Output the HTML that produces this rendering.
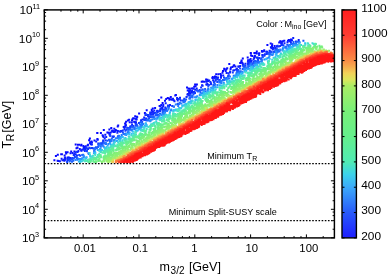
<!DOCTYPE html>
<html><head><meta charset="utf-8"><style>
html,body{margin:0;padding:0;background:#fff;}
svg{display:block;will-change:transform;}
text{font-family:"Liberation Sans",sans-serif;fill:#000;}
</style></head><body>
<svg width="388" height="278" viewBox="0 0 388 278">
<defs><linearGradient id="cb" x1="0" y1="0" x2="0" y2="1"><stop offset="0.000" stop-color="#ff1e1e"/><stop offset="0.111" stop-color="#ff3c32"/><stop offset="0.222" stop-color="#fa8c46"/><stop offset="0.250" stop-color="#f6ac4e"/><stop offset="0.278" stop-color="#f2d258"/><stop offset="0.306" stop-color="#dce65c"/><stop offset="0.333" stop-color="#aaed64"/><stop offset="0.445" stop-color="#78f078"/><stop offset="0.556" stop-color="#64f08c"/><stop offset="0.667" stop-color="#50ebb4"/><stop offset="0.722" stop-color="#3cd2eb"/><stop offset="0.778" stop-color="#3caafa"/><stop offset="0.889" stop-color="#285afa"/><stop offset="1.000" stop-color="#1e1eff"/></linearGradient>
<clipPath id="cp"><rect x="44.30" y="9.90" width="290.10" height="228.00"/></clipPath></defs>
<g clip-path="url(#cp)" fill="none" stroke-width="2" stroke-linecap="square"><path stroke="#0607ff" d="m256.8 51.6h0m-6.1 1.4h0m-179.5 98.5h0m145-77.2h0m-119 58.8h0m3.7 0h0m94.2-48.7h0m-113.7 60.3h0m79.9-47.2h0m-63.9 35.4h0m70.3-35h0m-30.7 18.8h0m-59 28h0m146.3-75.2h0m-145.3 75.2h0m175.4-91.8h0m-88.2 46h0m101.2-53.9h0m-139.5 75.4h0m101.4-56.5h0m21.8-8.4h0m-195.2 100.6h0m6-1.8h0m49.4-26.2h0m-35.6 16.4h0m63.4-31.1h0m7.6-3.1h0m101-52.9h0m-6.1 3.1h0m-152.5 79.8h0m14.7-10.4h0m125.5-65.9h0m59.6-24.1h0m-211.4 107.7h0m-9.9 4.6h0m-13.2 8h0m216.3-116.8h0m-209.5 110.8h0m161.8-83.2h0m3.4-1.7h0m-168.6 85.4h0m51.6-25.1h0m25.8-13.3h0m145.7-74.5h0m-115.9 59h0m4.4-2.3h0m20.3-9.8h0m-44.8 24.2h0m-55 25.7h0m-24 13.7h0m92.9-52.2h0m47.3-20.5h0m18.1-10.8h0m-30 17.9h0m-117.7 61.5h0m48.6-24.6h0m108.5-57.8h0m-31.9 16h0m89.3-42.4h0m-138.2 69h0m-26.7 13.3h0m-18.7 10.9h0m143.5-79.4h0m-173.4 94.5h0m85.1-44.7h0m-71.1 38.5h0m97-53.1h0"/><path stroke="#070cff" d="m234.2 65.3h0m-64.7 34.4h0m-37 19.5h0m124.3-65.8h0m-.7-.4h0m-64.4 35.5h0m-125.5 65h0m148.8-77.1h0m3.3-2.2h0m-123.8 66.2h0m102.4-55.8h0m-132.3 71h0m167.9-88.5h0m-135.1 71.8h0m94.5-50.4h0m3.7-2.2h0m45.7-23.7h0m-65.4 32.4h0m66.9-36.6h0m-38.7 23.3h0m-33.3 15.4h0m-62.2 35.6h0m62.7-33.5h0m31.5-17.8h0m9.6-3.4h0m-94.7 48.5h0m34-16.7h0m-77.3 41.8h0m204.8-109.1h0m-164.9 86.2h0m57.8-29h0m-38.9 18.5h0m129-66.5h0m25.8-10.9h0m-158.3 81.4h0m-26.6 14h0m56.5-30.1h0m-4.5 1.8h0m-23.1 12.7h0m129.9-69.6h0m18.3-9.8h0m-40 21.7h0m-122 62.6h0m-7.5 7h0m41.1-21.8h0"/><path stroke="#0810ff" d="m225.7 71h0m-38 19.6h0m-97.6 52.7h0m181.9-97.2h0m-159.8 84.4h0m-54.6 30.3h0m217-114.8h0m-148.9 78.4h0m-37.6 20.3h0m170.9-91.2h0m-143.4 76.6h0m106.9-57.4h0m-35.5 14.8h0m65.3-31.4h0m7-2.8h0m-123.1 66.1h0m148.1-78.7h0m-200.9 105.2h0m147.5-78.3h0m4.5-1.1h0m-154.3 78.9h0m149.5-76.5h0m-101.5 50.8h0m86.7-42.7h0m56.4-32.8h0m-51.9 29.9h0m6.9-5.8h0m-14.4 8.8h0m28.6-15.3h0m-136.1 72.9h0m142.8-74.4h0m-163.2 86.6h0m157.5-84h0m-67.1 32.5h0m38.9-17.4h0m-25 13.7h0m-101.6 53.8h0m-26 13.3h0m8.9-5.6h0m43.4-22h0m102.4-54h0m-118.6 62.6h0m-7.6 2.4h0m12.5-6.9h0m-37.5 22.1h0m217.6-116.1h0"/><path stroke="#0915ff" d="m208 81h0m-62.2 33.4h0m15.5-9.4h0m44.9-23.4h0m85.9-41.3h0m-175.9 90.2h0m138.7-73.8h0m-.1-.1h0m-47.3 23.1h0m-132 72.7h0m113.7-61.6h0m65.1-33.5h0m-170.6 90.5h0m206.4-106.7h0m-165 85.3h0m-1.4 .5h0m126.9-67.8h0m20.3-11.8h0m-212.5 113.8h0m76.5-42.7h0m86.1-43.1h0m-106.1 56.4h0m74.4-39.5h0m74.9-42h0m-191.7 102.9h0m7.3-4.2h0m52-26.4h0m-19 8.7h0m89.3-46h0m-136.5 73.2h0m172.7-91.9h0m25.6-15.2h0"/><path stroke="#0a19ff" d="m125.9 125.5h0m47.9-25.2h0m-59.9 31.8h0m20.3-10.3h0m-50.2 26.7h0m108.1-57.4h0m89.8-48.1h0m-27.7 15.2h0m-117.6 61.1h0m153.6-79.3h0m-137.3 71.7h0m24.2-13.6h0m2.9-.4h0m-19.4 8.9h0m-82.2 44.5h0m114.5-62.5h0m-56.5 30.3h0m137.3-70.8h0m10.8-4.8h0m-36.6 18.4h0m-138.2 73h0m157.3-83h0m-103.7 53.4h0m-17.8 9.8h0m126-66.7h0m-175.3 93.2h0m50.1-26.5h0m96.5-50.4h0m-49.1 24.2h0m-116.1 63.2h0m34.6-20.5h0m25-14.4h0m-45.2 25.6h0m-27.9 17.3h0m132.6-71.4h0m-93.1 48.5h0m126.6-65.5h0m24.7-15.7h0m-41.8 24.4h0m74.4-37.9h0m-110.4 56.7h0m-109.4 58.6h0m231-117.6h0m-107.5 52.1h0m-105.4 54.1h0m191.1-99.7h0m-113.8 59.9h0m-14.9 8.7h0m-83.8 44.7h0m53.5-28.9h0m-58 30.3h0m127.5-66.6h0"/><path stroke="#0b1eff" d="m144.2 117.4h0m96-51.5h0m-45 23.8h0m12.2-5.9h0m-19.4 10.1h0m-13.5 7.3h0m32-19.8h0m-71.8 40.7h0m26.1-13.3h0m-86.7 46.1h0m202.8-108.7h0m-122.6 64.2h0m-29.6 16.4h0m92.6-48.6h0m-112.6 60.3h0m57.4-30.4h0m-99.7 52.2h0m89.1-47.6h0m-1.2 1h0m58.9-33.1h0m80.4-39.3h0m-203.9 107.4h0m171.3-91.1h0m16-9.3h0m-49.8 27.1h0m26.1-14h0m-184.6 97.2h0m44.9-24.6h0m63.4-35.2h0m-37.5 23.6h0m81.9-43.6h0m40.2-21.3h0m-176.4 92.7h0m200.3-105.2h0m-91.9 48.7h0m-32.4 17.3h0m-92.8 48.9h0m126.3-66.5h0m-25 9.8h0m-80.8 46.4h0m187.4-101.7h0m-162 87.9h0m96-51.4h0m-115.3 59.9h0m45-22h0m-68.2 36.6h0m213.3-115.7h0m-205.4 111.3h0m169.8-90.8h0m-180.4 96.1h0m141.9-75.1h0m42.7-24.6h0m-12.8 8.6h0m-172.5 92.1h0m162.2-87.8h0"/><path stroke="#0c22ff" d="m178.2 99.1h0m-53.7 29.9h0m28.7-15.7h0m119.7-63.8h0m-54.8 28h0m-93.6 50.5h0m137.8-73.1h0m-8.8 4.7h0m-19.2 10.6h0m-44.1 20h0m-121.3 67.2h0m1.1 .6h0m196.2-106.2h0m-22.8 12.8h0m-126 68.2h0m-28.1 15h0m78.7-42.2h0m107.3-57.6h0m-25.8 13.1h0m-.4 1.2h0m-93.9 50.5h0m-14.1 7.5h0m-59.6 30.5h0m189.1-99.4h0m-60.2 30.6h0m25.8-12.4h0m57-31.5h0m-41.7 23h0m18.1-10.3h0m-39.6 21.6h0m-60 32.6h0m-95.7 48.8h0m164.8-87h0m-59.3 32.4h0m-76.6 41.4h0m74.5-40.1h0m-56.1 30.5h0m99.4-54h0m-78.4 42.6h0m17.6-9.4h0m-2.7 .5h0m7.8-3.3h0m-82.8 42.2h0m182.4-95.3h0m-134.7 72.2h0m120.8-64.7h0m39.9-19.5h0m-163.7 85.4h0m-53.4 27.2h0m32.4-17.8h0m-14.3 7.4h0m167.2-89.6h0m-127 69.8h0m101.2-54.1h0m-64.5 35.4h0m52.2-28.2h0"/><path stroke="#0f2eff" d="m188.5 95.6h0m6-3.5h0m-44.3 20.5h0m-4.1 5.8h0m14-7.5h0m50.8-27.7h0m67.9-36.6h0m-130.5 70h0m-74.4 38.3h0m163.3-85h0m-124.6 66.5h0m35.4-20.3h0m4.3-1.5h0m8.3-5.6h0m-8.7 5.7h0m-7.8 4.8h0m-40.6 21.7h0m32.2-17.5h0m57.1-31h0m-125.4 67.7h0m101.7-54.4h0m32-18.4h0m-50.3 27.1h0m108.8-56.8h0m-161.3 85.5h0m104.3-57.6h0m-134.8 74.4h0m147.9-79.8h0m-22.1 11.5h0m34.7-18.6h0m-143.5 77.8h0m130.7-72.4h0m-17.9 12.4h0m-69.3 36.8h0m80.5-42.8h0m-131.8 70.4h0m80.2-43h0m29.3-15.6h0m-114.2 61.1h0m138.7-73.9h0m-141.2 74.9h0m210.4-112.9h0m-31.6 16h0m-95.4 52.7h0m1.5-1.8h0m-70.6 36.8h0m38.7-19.2h0m41.2-21.2h0m-14.3 7.5h0m117-63h0m-23.2 12.4h0m-43.9 23.6h0m48.4-25.8h0m-126.9 66.8h0m68.8-35.7h0m-70.2 36.4h0m-31.7 17.3h0m106-57h0m70.3-36.9h0m-53.4 29.2h0m-24.3 12.8h0m31.2-17.4h0"/><path stroke="#123aff" d="m158 111.8h0m22.9-11.2h0m-94.2 47.4h0m127.2-66h0m-69.4 37.6h0m21.5-11h0m-86.8 46.3h0m166.3-89.1h0m-144.4 77.4h0m157.9-84.9h0m-64 34.7h0m-81.9 44h0m20.3-11h0m-27.6 14.4h0m26.4-13.6h0m30.4-16.7h0m81-43.6h0m-175.1 92.4h0m169.4-89h0m58-28.5h0m-182 95.2h0m105.9-56.5h0m-145 76.8h0m179.1-95.2h0m3.6-3.4h0m12.4-5.8h0m-2.5 1h0m-198.6 106.5h0m68-35.5h0m106.6-59.3h0m-143.2 78.4h0m50.8-26.6h0m120.1-64.9h0m-6.7 3.7h0m3.8-2.6h0m-119.7 61.9h0m67.5-36.3h0m-95.5 53h0m112.3-59.3h0m-48.5 26.2h0m-57.9 31h0m157.1-84.1h0m-54.7 29.7h0m29.2-15.4h0m-98.6 51.4h0m34.9-18h0m-122.6 65.7h0m152.3-81.5h0m-94 50.4h0m137.5-75.5h0m-191 99.3h0m201.2-106h0m-152.3 85.1h0m-33.4 17.3h0m190.5-103.1h0m-195.7 106.3h0m52.2-28.3h0m33.2-17.1h0"/><path stroke="#1647ff" d="m214.5 81.5h0m-72.3 40.6h0m-51.9 26.1h0m89.4-49.1h0m17.3-8.9h0m-47.7 27.7h0m-26.4 14.5h0m-12.8 3h0m21.3-9.5h0m-2.2 2.1h0m-42.2 22.6h0m41.2-20.9h0m134.6-72.8h0m-162.5 87.3h0m64.9-34.5h0m52.1-27.7h0m35.1-18.7h0m21.1-11.2h0m-23.6 12.1h0m-114.2 61.5h0m-68.6 36.4h0m32.2-16.9h0m140.8-76.8h0m-165 88.9h0m18.3-8.9h0m-19.6 10.2h0m24.5-13.8h0m-25.8 13.5h0m30.4-16.6h0m81.5-41.9h0m35.3-18.7h0m-117.1 61.9h0m65.3-36.5h0m86.6-44h0m-153.1 82h0m113.1-60.8h0m-31.6 16.9h0m-46.9 24.7h0m9-5.2h0m-64.8 35.7h0m52.6-28.6h0m95.4-51.1h0m21.9-12.8h0"/><path stroke="#1954ff" d="m244.4 68h0m-60.3 32.4h0m91.2-48.9h0m-36.5 19.8h0m-131.3 69.4h0m2.7-.9h0m-33.7 17.3h0m113.5-59.8h0m-60.2 31.5h0m36.4-19.4h0m13.6-6.7h0m-23.9 12.2h0m43.9-24.2h0m45.9-23.1h0m9.4-6.6h0m-12.1 8.1h0m-5.9 2.5h0m-59.2 32.2h0m-21.2 10.8h0m130.6-69.8h0m-192.5 103.4h0m167.4-90.8h0m-95.9 52.5h0m132.3-68.2h0m-150.2 77.4h0m43.9-23.2h0m79.2-43.7h0m-177.3 96.2h0m162.7-86.8h0m-88.2 45.9h0m-22.2 13.1h0m143.3-75.5h0m-32.9 16.3h0m-160.9 85.8h0m-23.6 12.2h0m85.6-44.7h0m-27.8 14.7h0m-21.2 10.4h0m133.7-70.6h0m-51 27.6h0m1.7-2.2h0m59.5-30.8h0m46.3-21.9h0m-171.5 86.3h0m91.7-47.3h0m-55.7 30h0m49.8-26.1h0m7.2-3.5h0m-42.2 22.4h0m-26.3 13.5h0m151.2-76.4h0m-140.8 71.6h0m40.2-22.8h0m25.1-12.9h0m-67.9 37h0m-9.5 2.6h0m-54.6 31.1h0m161.8-85.9h0m19.1-12.7h0m-32.5 17.1h0m-36 20.3h0m-22.2 13.2h0m-33 17.8h0m.7 0h0m-7.6-2.8h0m9.3 1h0m1.8 0h0m-15.3 7.4h0m-71.5 37.8h0m223-118.7h0m-129.2 69.8h0m13.3-7.6h0m98.5-54.1h0m-199.2 108.1h0m184.2-99.2h0m-156.8 84.6h0m118.6-63.6h0m51.6-27.8h0m-74.1 40.3h0m-82.2 43.7h0m71.7-38.3h0m61.8-32.7h0"/><path stroke="#1d61ff" d="m98 146.9h0m99.9-55.3h0m52-25.5h0m-138.7 74.2h0m145.9-78.7h0m40.3-19.8h0m-71 36.2h0m28.3-14.5h0m-98.8 50.2h0m113.2-59.8h0m-157.2 84.5h0m41.4-21.4h0m132.3-70h0m-37.5 18.7h0m-46.5 24.6h0m-64.2 35.6h0m-67.8 35.6h0m223-117.5h0m-79 41.5h0m-29 15.6h0m-31.1 16.2h0m129.4-69.1h0m-150.6 79.1h0m148.1-77.6h0m13.5-5.6h0m-194.8 101.1h0m41.6-23.1h0m-30.7 18.8h0m160.2-87.5h0m-188 101.5h0m-4.5 3.6h0m163-87.2h0m-48.4 25.7h0m100.2-53h0m-1.4 0h0m-2.7 1.6h0m-73.5 38.8h0m10.7-5.7h0m44.1-24.3h0m5.5-4.3h0m-128.1 69.8h0m31.8-15.9h0m-37.9 20.7h0m10.9-8h0m15.1-6h0m57.3-30.8h0m33.1-17.4h0m-157.8 81.6h0m-4.7 5.1h0m67.9-37.8h0m85.3-44.5h0m-130.3 70h0m56.1-30.2h0m31.2-17.6h0m20-10.6h0m-128.2 69.8h0m5.6-3.6h0m82.2-43.3h0m-112.7 60.4h0m57.3-32.5h0m-28.5 17.1h0m-27.5 14.4h0m188.5-100.7h0m-78.4 41.7h0m-19.3 10.9h0"/><path stroke="#206eff" d="m208.3 88.5h0m90.9-46.1h0m-13.2 4.3h0m2.4 0h0m-68.1 34.8h0m-137.1 73.3h0m131.4-69.7h0m-95.6 50.9h0m-13.9 7.1h0m44.7-22.6h0m71-38h0m-1.5-.1h0m59.6-31.2h0m-130.7 69.2h0m56.3-29.2h0m-13 4.3h0m-63.7 36.8h0m-17.4 8.3h0m24.3-13.2h0m159.3-82.9h0m-14.4 5.4h0m10.6-5h0m-155.3 83.8h0m164.6-86.2h0m-28.9 11.7h0m25.5-11.2h0m-50.8 25.2h0m-20.3 11h0m-4.1 1.7h0m-132.5 72.3h0m149.9-80.6h0m39.4-22.8h0m-92.6 51.5h0m99.6-53.8h0m-159.1 86.1h0m111-60.5h0m-117.6 63.5h0m49.5-28.5h0m65.2-32.3h0m-114.9 59.9h0m105.7-56.2h0m-100.9 54.6h0m43.6-23.3h0m60.1-31.5h0m18.2-11.4h0m-16.4 10.5h0m29.2-15.6h0m-152.3 81.1h0m83.3-45.4h0m88.7-46.7h0m4.8-2.5h0m-133 71.5h0m-19.1 8.7h0m3.5-.4h0m105.8-56.9h0m-47.6 25.3h0m13-6.3h0m-63.7 34.2h0m109.1-61.4h0m21.6-9.2h0m-130.1 69.4h0m-2.4 .4h0m119.1-62.6h0m-95.8 51.7h0m73.2-40h0m43.2-22.1h0m-202.3 108.2h0m106.5-57.6h0m-89.7 48.7h0m161.6-86.6h0m-65.8 34.4h0m-58.1 30.7h0"/><path stroke="#247cfe" d="m99.8 145.6h0m148.1-77.6h0m-97.3 52.3h0m14.5-8.4h0m-50.5 27.9h0m92.9-49.6h0m52.9-28.6h0m-181.7 97.3h0m97.1-54.5h0m35.4-16.6h0m-65.5 35.8h0m9-5h0m-33.1 16.5h0m46.9-25.7h0m95.9-50h0m-142.6 76.4h0m147.1-78.3h0m-152.9 80.7h0m8.8-3.8h0m110-58.6h0m-75.7 40.2h0m-47.6 24h0m-22.6 13.9h0m114.6-62.6h0m-108.3 57.9h0m166.7-88.5h0m-40.3 20.3h0m16.9-7h0m16.8-11.2h0m6.6-1.3h0m-88.2 45.1h0m-32.1 17.1h0m103.2-53.3h0m-48.4 26.3h0m-90.5 46.3h0m133.3-70h0m-37.7 20.4h0m-61.2 33.4h0m77.1-41.8h0m-97.3 52.6h0m-36.4 19.4h0m124.4-67.5h0m21.9-13h0m56.2-28.1h0m-86.4 46.3h0m-47.5 24.9h0m130.2-69h0m-139.3 73.4h0m102.9-55.4h0m-128.1 69.5h0m43.7-22.8h0m-.3-.9h0m134.6-70.1h0m-167.4 88.9h0m-17 8h0m101-53.7h0m29.7-15.4h0m-113.9 59.1h0m13.5-5.8h0m38.1-22h0m87.5-45.1h0m-86.1 45.1h0m-49.6 26.5h0m71.4-36.7h0m50.5-27.5h0m-173.2 93.3h0m212.4-113.7h0m-135 72.2h0m119.3-64.9h0m-145.2 77.9h0m-28.4 16h0m52.7-28.1h0m99.6-54h0m4.6-2.9h0m-11.6 7.2h0m-146.3 77.1h0m118.7-62.6h0m-43.1 22.9h0m-63.8 34.6h0m50-26.6h0m107.9-59.1h0m-163.9 89.1h0m62.5-33.7h0m-87.3 45.4h0"/><path stroke="#2892fb" d="m250.4 65.5h0m-168.2 92.8h0m153.7-82.9h0m8.2-6.1h0m-123.6 68h0m106.2-57.6h0m-106.3 57.4h0m152.9-83.3h0m-108.9 60.4h0m111.9-60.9h0m-125.9 67.9h0m-29.8 16.7h0m81.8-44.6h0m-126.9 66.7h0m162.8-85.9h0m37.7-22.5h0m-78.7 44.6h0m-87.4 46.7h0m51.5-28.2h0m94.3-49.7h0m-59.8 32.5h0m27.5-15h0m46.1-26.6h0m23.9-10.1h0m-51 26.6h0m-158.6 84.1h0m16.8-8.1h0m187-99.7h0m-148.1 78.7h0m98.1-52.2h0m-10.6 6h0m66.1-35.2h0m-174.4 93h0m169-90.3h0m-116.5 60.8h0m74.4-38.4h0m-50.8 26.2h0m42-22.5h0m20.3-10.6h0m-156.5 84.1h0m37.1-20.8h0m66.2-33.9h0m-67.7 34.8h0m115.5-61h0m43.4-22.2h0m-49.9 23.7h0m-145.2 80.4h0m41.4-22.1h0m12.9-8.2h0m80.6-42.6h0m-93.7 51h0m111.7-60.7h0m-21.3 12h0m-18.2 8.3h0m-87.2 48.1h0m37.6-19.8h0m63.5-35.5h0m-113.1 60.9h0m43-22.2h0m7.3-5.4h0m74.1-39.3h0m-96.5 53.2h0m99.5-54.2h0m-146.8 79h0m195.1-105.7h0m-208.5 113.1h0m170.7-93h0m27.9-16.4h0m-80 45.5h0m-86.3 45h0m110.1-57.3h0m66.1-36h0m-39.6 21.4h0m25.9-13.7h0"/><path stroke="#2da9f9" d="m207.2 92h0m-3.2 1.5h0m83.8-44.4h0m-143.2 76.6h0m-36.9 19.7h0m129.5-69.4h0m9-5.3h0m-31 16.4h0m18.2-9.4h0m-77 41.1h0m81.4-44.3h0m51.1-26.2h0m-85 43.5h0m37.8-18.8h0m-114.9 60.9h0m171-89.1h0m-50 24.4h0m51.6-26.4h0m-185.2 99.5h0m141.1-77.6h0m-168.8 92.6h0m118.7-63.8h0m54.7-29.7h0m-130.3 68.7h0m52.7-26.9h0m-87.9 47.1h0m9.9-5.1h0m179.2-100h0m-45.6 26.7h0m19.1-9.2h0m-139.9 75.6h0m-34.2 18.6h0m56.8-30.4h0m.8-.7h0m67.9-36.8h0m27.4-14.8h0m-125.1 67.8h0m102.4-56.3h0m-22.2 13.2h0m-97 52h0m148.5-79.9h0m-95.8 51.6h0m119.9-66.3h0m-128.6 69.4h0m35.3-17.6h0m-75.3 39.6h0m115.8-61.6h0m-103.2 56.1h0m29-15.9h0m105.1-57.1h0m-59 32.6h0m22.6-12.6h0m26.4-14.5h0m59.6-31.6h0m-174 93.9h0m-34.2 18.5h0m125.9-69.6h0m84.4-42.8h0m-57.5 29.6h0m-21.5 12.1h0m-138.4 74.2h0m174.2-93.1h0m-20.8 10.7h0m-53 28.9h0m10.1-5.7h0m101.2-54h0m-210.3 112.6h0m174.4-94.2h0m-48.8 26.8h0m28.9-17h0m-118.1 64.5h0m102.8-55.7h0m42.5-22h0"/><path stroke="#31bff6" d="m146 125.7h0m44.3-24h0m-44.4 21.7h0m-66.1 37.2h0m15.6-7.8h0m-9.1 4.9h0m170.4-92.1h0m13-6.9h0m-81.1 43.6h0m87.8-47.8h0m-154.9 83.1h0m183.6-94.4h0m-53.6 24.1h0m-85.5 47.5h0m18.7-10.1h0m56.5-30.8h0m-67.2 36.4h0m-12.9 7.5h0m50.1-27.6h0m-26.9 15.2h0m19.6-12.1h0m-11.8 7.8h0m-16 8.7h0m10.4-5.8h0m-63.7 33.1h0m158.2-83.6h0m-97.2 51.9h0m21.9-11.7h0m-67.3 36.1h0m127.5-70.5h0m-74.7 42.5h0m22.1-11.9h0m-111.7 60.1h0m132.6-72.5h0m58.4-30h0m-71.8 37.9h0m-89 48.3h0m31.3-17.4h0m125.7-67.1h0m-87.2 45.7h0m-56 31.3h0m-10 4.6h0m-30.4 17.4h0m59.9-32.6h0m-27.6 15.2h0m24.5-13h0m49.8-27.5h0m17.9-9.3h0m-34.3 18.9h0m-3.2 .5h0m-32.6 17.9h0m-59.3 32.1h0m145-79.2h0m-99.5 55.1h0m19.9-10.9h0m61.7-32.8h0m-94.5 48.8h0m154.2-81.2h0m-46.6 25.2h0m-76.5 40.5h0m-50.5 27.9h0m62.2-34.4h0m-85.4 46.7h0m79.4-42.8h0m7.5-3.7h0m46.2-24.9h0m-53.4 27.6h0m-40.8 21.9h0m33.5-16.6h0m-42.7 22.9h0m90.3-50.7h0m81.3-42.7h0"/><path stroke="#38cce7" d="m101.9 150.1h0m74.8-39.9h0m-81.6 43.7h0m108.1-58.2h0m-20.8 10.9h0m-62.4 34.3h0m78.7-43.1h0m102.4-52.8h0m7.1-1.2h0m-57.9 26.6h0m-28.4 15.6h0m53.8-29h0m-96.2 51.6h0m25.4-15h0m-79.5 44.3h0m49.8-27.3h0m92.7-49.4h0m18.2-9.6h0m-126.7 68h0m-53.9 29h0m57.7-31.9h0m120.2-66.3h0m-104.8 59.1h0m2.6-1.5h0m94.4-51.2h0m-68.6 37.1h0m5.7-2.9h0m72.4-39.7h0m-56.3 31h0m22.7-15h0m-46.9 27.4h0m-48.3 26.5h0m-74.4 40.1h0m-1.7 .7h0m193.4-104.2h0m-188.4 101.1h0m26.6-13.6h0m185.3-98.7h0m-190.4 100.5h0m53.9-27.7h0m-69.7 37h0m62.8-33.3h0m19.5-11.7h0m-48.8 27.3h0m83.2-45.7h0m-43.1 22.9h0m87.8-46.4h0m-118.5 64.1h0m2.4-1.8h0m161.6-85.2h0m-207.3 110.1h0m170.2-93h0m-21.2 13.1h0m52.1-27.4h0m-40.6 19.4h0m-42.5 23.7h0m-28.1 16.1h0m78-41.9h0m-47.9 25.3h0m26.5-14.7h0m-89.6 49.3h0m42.9-23.2h0m87.7-47.5h0m-173 93.5h0m92.3-49.7h0m100.7-53h0m-197.4 105.2h0m43.9-24.1h0m6.4-3.2h0m79.5-42.7h0m20.7-12.3h0m8.6-3.4h0m-150.8 81.2h0m10.5-6.9h0"/><path stroke="#40d7d7" d="m231.8 81.2h0m18.6-11.3h0m-107.4 57.3h0m-13.7 9.3h0m22.9-12.2h0m75.4-43.3h0m-8.3 6.2h0m-105.3 57.4h0m6.1-4.2h0m20.9-10.7h0m122.6-65.5h0m-78.5 41.4h0m6.4-2.6h0m5.7-3h0m65.9-36.7h0m-150.2 81.4h0m31.1-17.1h0m9.5-3.9h0m39.1-22.8h0m-61.1 34.2h0m31.9-16.7h0m84.4-45.6h0m-125.3 67.7h0m165.6-89.1h0m-100.5 52.2h0m-56.2 31.7h0m88.9-47.8h0m-17.5 8.6h0m81-43.8h0m28.7-9h0m-108 52.6h0m55-30.6h0m-90.3 49.9h0m-51.1 27.1h0m4.3-2.1h0m92.6-49.6h0m63.1-33.9h0m-163.2 85.6h0m-24.9 12.8h0m-6.8 5.3h0m23.7-11.6h0m-17.3 4.2h0m110.8-54.3h0m71.8-39h0m25.3-12.2h0m-136.5 72.2h0m66.9-36.1h0m-.1 .4h0m-99.1 52.6h0m-17.7 9.6h0m2.1-1h0m140.1-74.9h0m-112.4 60.3h0m19.2-13.2h0m52.9-25.3h0m-70.6 37.9h0m149.1-80h0m-67.5 34.4h0m-8.1 4.8h0m-64.1 35.8h0m46.8-25.3h0m-72.9 39h0m179.8-94h0m-74.2 37.1h0m11.9-6.2h0m-9.5 5.2h0m-65.5 34.9h0m99.9-53.4h0m-26.1 14.3h0m-41.7 22.5h0m47.9-26.2h0"/><path stroke="#47e3c6" d="m151.9 124.8h0m102.6-55.9h0m-90.4 49.7h0m-53.2 28.5h0m86.5-46.5h0m7-3.8h0m84.7-45.6h0m-180.4 97.1h0m97.7-53.5h0m-94.7 51.3h0m145.4-79h0m34.6-18.1h0m-82.5 43.9h0m-43.8 24.2h0m66.5-34.9h0m16.6-9h0m-.7-.1h0m-79.9 42.2h0m129.8-68.6h0m-162.3 85.4h0m144.4-75.9h0m5.6-4.1h0m-186 99.2h0m66.4-35.7h0m8-2.1h0m-6 3.2h0m31.2-18.4h0m-111.5 61.8h0m5.5-4.3h0m127.8-67.8h0m35.2-19.8h0m-4 2.8h0m61.6-27.1h0m-39.2 14.5h0m-10.9 6.5h0m44.1-21.7h0m-78.6 40.4h0m63.8-33.9h0m-31.1 14.7h0m18.6-9.6h0m-127.2 69.3h0m81-43h0m6.4-4.5h0m-115.9 63h0m101.7-54.8h0m58.6-31.7h0m-159 86.3h0m18-10h0m113.6-61h0m-79.4 42.6h0m-52.4 28.4h0m17.9-9.4h0m5-3h0m21.2-11.8h0m3.3-1.7h0m4.3-2.3h0m8.8-4.3h0m-80.5 43.4h0m-20.5 10.7h0m10.1-6h0m90.5-47.9h0m-35 18.7h0m-58.5 31.9h0m195.5-105.7h0m27.2-7.5h0m-180.6 90h0m52.4-28.5h0m48.1-27.8h0m-99.6 56.4h0m19.5-12h0m65.4-34.3h0m-25.2 13.9h0m69.3-37.7h0m-178.4 96.5h0m-.8 .3h0m78.1-43.9h0m-63.9 36.5h0m150-80.6h0m-113.3 61.1h0m99.8-54.3h0m-12.7 6.9h0"/><path stroke="#4de9ba" d="m253.9 70.6h0m-5.3 2.2h0m45.3-23.1h0m-12 4.8h0m-73.3 40.4h0m36.1-19.4h0m-41.6 22.6h0m42.4-25.7h0m-143.9 79.7h0m55.2-29h0m83.5-45.1h0m-107.4 58.2h0m61.8-33.9h0m15.2-7.8h0m-66.3 36h0m152.9-81.9h0m-146.4 77.5h0m-34.5 19.4h0m70-38.4h0m-72.9 39.7h0m176.7-94.9h0m-59.9 32h0m38.7-20.9h0m-163.1 87.7h0m142.7-77.4h0m-118.4 64.4h0m93.3-50.7h0m29.3-16h0m47.9-24.6h0m-157.5 84.7h0m36.4-20.6h0m105.2-56.7h0m-159.5 87h0m84.6-45.8h0m15.1-8h0m-133.5 71.3h0m131.7-71.3h0m-103.3 56.7h0m-28.4 15.4h0m124.6-67.5h0m-9.3 5h0m109.3-52.8h0m-211.3 107.2h0m200.6-105.6h0m-182.3 96.6h0m45.1-24.8h0m21.2-13.2h0m52-28.3h0m9.2-3h0m-151.8 82.4h0m152.1-82.7h0m-143 78.1h0m107-58.3h0m77.8-41.5h0m-118 63.7h0m-59.2 31.8h0m-6.3 3.6h0m179.8-97.3h0m-136 73.4h0m146.2-78.1h0m-83.1 44.2h0m79-43.3h0m-159.1 86.7h0m59.3-32.6h0m85.8-45.7h0m-20.2 9.4h0m-139.8 76.7h0m168.5-90.7h0m-155.1 83.1h0m13-6.6h0m102.1-55.8h0m-85.9 47h0m-30.2 16.6h0m-25.1 13.2h0m52.5-29.7h0"/><path stroke="#51eab4" d="m226.3 86.3h0m35-19h0m7.7-6.3h0m-56.4 32.5h0m82.3-43.9h0m-161.6 86.8h0m64.5-35h0m16.4-8.7h0m41.3-22.1h0m-119.9 62.2h0m-48.1 28.3h0m90-51.3h0m60.4-30.3h0m38.6-20.5h0m23.6-13.9h0m-20.7 12.6h0m-99.7 52.9h0m8.3-4.4h0m24.4-13.5h0m-91.9 50.8h0m113.3-61.2h0m-105.4 56.7h0m87.3-46.8h0m7.2-5h0m-128.4 70.3h0m98.9-53.9h0m30.4-17h0m-66.9 36.7h0m-21.9 12.3h0m-45.1 23.8h0m200.4-108.3h0m-120.1 64.6h0m56.1-29.4h0m-19.7 10.7h0m96.7-50.8h0m-45 22.5h0m-155.9 84h0m147.1-78.7h0m-116.6 62.6h0m-11.8 6h0m61.2-32.1h0m-64.8 35h0m112.7-61.1h0m-10.6 5.6h0m-106.4 57.9h0m57.4-32h0m18.7-10.1h0m100.4-53.8h0m-67.7 36.5h0m-46.8 25.6h0m115.2-62.4h0m-66.7 35.3h0m58.9-30.6h0m-139 74.9h0m111.4-60.1h0m-137.5 73.4h0"/><path stroke="#54ebad" d="m303.3 45.9h0m-140.6 75.3h0m-18.5 10h0m7.3-6.1h0m92.8-47.9h0m-82.3 44.2h0m-7.5 3.7h0m114.1-62.2h0m-140.1 76.4h0m-39.4 20.3h0m44.6-22.6h0m-23.9 11.9h0m145-77.6h0m-67 36.5h0m100.7-54.9h0m-115.6 61.3h0m84.5-44.6h0m-171.9 90.8h0m100.7-51.9h0m52.6-28.4h0m-131.4 70.7h0m-15.5 8.5h0m197.1-106.6h0m10.9-6.8h0m-209.5 114.2h0m25.1-14h0m136.2-73.2h0m20.7-11h0m-182.2 98h0m19.8-10.1h0m74.6-40.3h0m-39.4 21.4h0m-45 24.4h0m19.7-10.8h0m92.7-49.9h0m59.5-32.2h0m-108.9 58.1h0m136.5-72.6h0m-194.6 104.4h0m87-46.9h0m-7.3 4.3h0m3.6-2h0m-82.6 42.5h0m135.4-71.4h0m52.6-28.2h0m-198.4 107.4h0m75.1-40.5h0m67.7-36.7h0m18.6-10.2h0m-74.2 40.3h0m72.9-40.5h0m-14.6 8h0m-71.5 39h0m-5.4 2.3h0m112.2-60.8h0m.2 1.3h0m-75.6 40h0m-91.7 50.5h0m57.7-31.2h0m-37.3 18.7h0m166-88.3h0m-165.6 89.1h0m16.3-8.4h0m12.1-7.3h0m25.5-13h0m31.8-17.6h0m-107.9 58.7h0m177.5-97.1h0"/><path stroke="#58eca6" d="m163.4 120.9h0m69.4-37.8h0m44.4-23.8h0m-118.2 64h0m133-71.2h0m-54.7 28.6h0m-84.7 45.1h0m104.5-55h0m20.7-11.1h0m-28.2 14.6h0m-92.2 50.2h0m66.1-37.3h0m-111.5 61.8h0m72.7-39.4h0m-53.2 29.2h0m23.4-12.9h0m44.8-25.8h0m-90.9 50.8h0m142.5-77.7h0m-140.8 77h0m10.9-6.2h0m43.2-23.3h0m23.8-13.4h0m-99.1 54.4h0m119.4-64.5h0m-101.4 54h0m201.2-105.2h0m-15.3 5.4h0m-41.6 22.4h0m44-23.5h0m-58.4 30.3h0m22.3-11.2h0m-78.3 42.4h0m57.3-30.8h0m-148 79.8h0m106.7-57.5h0m-73.5 39.6h0m191.3-97.9h0m-164.4 82.8h0m-30.6 16.1h0m75.1-40h0m-22.1 11.5h0m37.9-19.6h0m49.1-26.2h0m-166.3 89.7h0m90-48.5h0m-14.5 7.9h0m-42.6 22.6h0m93.1-53.2h0m35.7-16.1h0m30.5-17.7h0m-188.8 102.8h0m1 0h0m119.8-64.8h0m58.9-33.4h0m-102.9 57.1h0m62.1-35.3h0m-128.8 71.1h0m5.2-2.5h0m162.8-90.3h0m-170 93.9h0m191.4-103.5h0m-23.7 13h0m-81.5 44.4h0m-32.3 17.3h0m150.4-79.1h0m-179 94.4h0m57.6-31.3h0m111.9-59.1h0m-155.2 82.2h0m12.3-6.4h0m-53.1 28h0m70.3-36.9h0m73.8-40.5h0"/><path stroke="#5ced9f" d="m113.2 148.2h0m142.9-76.4h0m-64.5 35h0m14-7.8h0m-66.1 36h0m155.7-84h0m-117.3 63.1h0m76.3-43.3h0m-118.8 66.1h0m41.6-22.2h0m-1.8 1h0m85.6-46.3h0m-44.1 23.4h0m-94.1 50.7h0m-31.4 17.2h0m198.5-106.9h0m10.8-5.1h0m-41.2 20.7h0m-160.3 86.2h0m24.8-12.3h0m135.2-74.1h0m-118.5 64.1h0m128.2-68.9h0m-19.6 11.2h0m-33.8 18h0m-51.2 27.8h0m42.7-22.9h0m-81.4 41.9h0m117.7-62.9h0m72.8-33.4h0m-105.9 52.9h0m-20 10.7h0m92.5-50.2h0m-165.7 89h0m83.9-45.7h0m29-14.6h0m-141.3 75.8h0m112.1-59.9h0m35.6-19.4h0m47.7-27h0m-161.5 88.7h0m135.4-73.1h0m-47.4 24.5h0m-89.8 49.5h0m154-83.7h0m-90.7 49.7h0m15.6-8.8h0m-103.6 55.5h0m12.4-6.2h0m59.1-32.2h0m37.9-20.1h0m-37.8 20.7h0m75.1-41.2h0m.9-.2h0m-45.9 24.8h0m98.7-53.7h0m-155.5 83.9h0m60.6-32.1h0m-32.4 17.6h0m-40.7 21.9h0m5.5-2.9h0m-39.7 19.6h0m24-11.1h0m173-93.4h0m-153.8 82.8h0m22.8-11.9h0m124.5-68.4h0m-82.2 45.1h0m33.4-17.6h0m-37.7 19.8h0m79.5-42.6h0m-45.3 23.1h0m68.8-35h0m9.4-2.8h0m-61.6 30.4h0m-103.3 56h0m38.6-21h0"/><path stroke="#60ef99" d="m188.3 108.8h0m-76.5 39.8h0m67.8-35h0m-28.8 14.6h0m20.1-9.7h0m2.1-1.5h0m64-35.3h0m-39.5 22.4h0m100.8-54.1h0m-165.1 88.8h0m134-72.3h0m-31.7 16.9h0m3.5-2.1h0m-96.9 52.6h0m129.2-69.7h0m-2 1h0m-11.5 6.3h0m57.1-26h0m-47.1 20h0m-118.4 64.2h0m-53.1 29.2h0m54.3-29.9h0m31.3-16.3h0m126.4-66.8h0m-33.8 14.8h0m-40.4 23.7h0m-46.6 24.8h0m4.1-1.7h0m-7.1 3.9h0m84.8-45.9h0m-101.7 55.1h0m-27.2 14.4h0m-21.4 10.5h0m155-83h0m-15.3 8.5h0m-49.8 24.4h0m-113 63.8h0m163-88.2h0m-17.8 9.4h0m-101.4 53.8h0m10.8-5.7h0m94.9-50.1h0m5.6-2.9h0m35.9-20.3h0m-146.1 79.1h0m-19.8 8.8h0m37.8-18.5h0m1.9-.3h0m76.8-42.4h0m-136.8 73.3h0m101.7-54.2h0m-84.5 46.6h0m88.4-48h0m-75.9 40.9h0m50.4-26.9h0m31.4-16.9h0m-94.4 50.9h0m-9.3 4.9h0m17.5-10.4h0m177.4-94.9h0m-93.9 50.4h0m55.4-29.4h0m-6 2.8h0m-39.3 21.6h0m-37.4 20h0m108.1-58.4h0m-88.5 48.2h0m-1.8 .9h0m-91.8 49.4h0m19.3-10.3h0m18-11.1h0m119.1-63h0m-84.2 44.8h0m-67.8 37h0m18.8-9.9h0m124.1-67h0m-73.2 39.1h0"/><path stroke="#63f092" d="m137.5 137.1h0m-11.1 5.9h0m145.3-78.4h0m-42.9 22.9h0m64.8-35h0m-135.4 73.4h0m55.1-30.7h0m-119.9 65.9h0m7.4-4.3h0m156-84.1h0m-160.2 86.6h0m25.5-14.3h0m181.6-97.5h0m-79.4 40.8h0m85.6-41.7h0m-89 44.4h0m33-16.7h0m-98.2 52.7h0m116.4-62.9h0m-93.2 50.5h0m-18.1 10.1h0m32.7-17.9h0m-63.3 33.4h0m76.8-40.4h0m-75.5 40.4h0m131.8-72.3h0m-14.6 9.1h0m-155.3 82.9h0m128-67.9h0m31.8-17.4h0m-13.7 7.6h0m-111.3 59.8h0m105.3-56.6h0m-143.2 76.7h0m51.5-27.1h0m70.4-39.2h0m-15.8 9.2h0m60.6-32.5h0m-36 19.6h0m-3.7 2.1h0m-96.8 51.5h0m7.9-3.2h0m52.1-28.2h0m47.7-26h0m-132.9 70.7h0m201.2-107.6h0m-146 79.1h0m50.7-27.8h0m62.6-33.6h0m-96.3 50.8h0m102-53.9h0m-7.6 3.7h0m-44.8 24.7h0m-42.2 22.3h0m-64.2 34.2h0m57.4-30.4h0m105.7-57.2h0m-51.9 28.5h0m12.6-7h0m-106.6 58.1h0m5.2-3.9h0m162.9-86.8h0m-13 6.8h0m-161.5 87.3h0m-11.5 5.7h0m3-2.4h0"/><path stroke="#67f08e" d="m198.2 104.9h0m97.8-53h0m-89 48.2h0m-61.7 33.4h0m-6.3 2.7h0m-48.8 25.6h0m47.4-24.3h0m7.4-6.4h0m-35.4 21.3h0m80.3-42.9h0m-17 9.1h0m33-18.9h0m-106.5 58.9h0m206.2-111.2h0m8.6-1.1h0m-44.3 18.3h0m-114.6 63.7h0m26.1-14.9h0m70.2-37.4h0m-65.7 34.9h0m-59.2 32.9h0m26.8-14.7h0m-27.3 15h0m104.4-57.5h0m-125.4 68.7h0m162.6-87.8h0m34.1-17.8h0m-12.6 5h0m30.1-8.9h0m-70.8 31.4h0m12.1-5.9h0m35.7-20.4h0m-101.8 54.2h0m-52.7 30.6h0m143.7-78.2h0m-171.9 92.6h0m142.7-78.1h0m19.8-9.5h0m-182.6 99.3h0m7.6-4.6h0m147.9-79.5h0m36.6-20.5h0m-95.7 51.7h0m102.5-54.7h0m-91.8 49.7h0m-21.2 9.3h0m111.2-58h0m12.8-7.9h0m-56.3 31.4h0m-15 8.2h0m71-37.4h0m-141.1 75.3h0m85-46.7h0m17.5-10h0m-9.2 6.2h0m-139.2 75.4h0m91.7-49.9h0m-7.7 4.3h0m-65.9 35.4h0m89.3-47.8h0m-46.7 24.9h0m130.2-68.9h0m-100.9 53.4h0m-72.9 39.2h0m-29.4 16.2h0m191.6-104.2h0m-186.9 101.1h0m125.7-67.4h0m-106.4 57.1h0"/><path stroke="#6bf08a" d="m132.3 140.7h0m119.3-64.4h0m-11.3 5h0m-110.2 60.8h0m12.6-6.4h0m46.6-25.7h0m-90.8 49.5h0m74.3-40.8h0m44.7-24.2h0m-74 40.4h0m-44.1 21.5h0m210.2-109.2h0m-43.2 21.5h0m-10.7 5.5h0m-63 32.6h0m-3.2 3.6h0m20.8-12.6h0m-93.3 51.5h0m90.7-49.4h0m72.2-38.5h0m-3.9 1.6h0m-109.9 60h0m122.6-66.5h0m-32.5 17.1h0m-9.1 5.5h0m-62.6 34h0m67.8-37.1h0m-15.4 8.7h0m-72.1 38.6h0m-16.1 9.1h0m10.7-6.8h0m-50.3 28.5h0m144.7-78.4h0m-98.5 53.2h0m-24.5 13.4h0m-20.5 11.2h0m33.9-18.9h0m-36.3 19.9h0m81.5-44.4h0m18.6-9.7h0m-112.1 60.9h0m82.4-45.7h0m55.9-30.1h0m34.6-18.4h0m-69.8 37.8h0m18.1-9.8h0m62-33.6h0m-168.2 90.4h0m54.1-28.1h0m105.4-57.7h0m-76.8 41.4h0m-44.3 24.8h0m8.6-4.6h0m5-2.9h0m64.4-34.7h0m-61.5 33.5h0m-52.6 27.3h0m4.9-1.4h0m42.4-23.3h0m-62.1 33.9h0m-3.5 1.8h0m185.5-100.4h0m-164.2 88.7h0m23.5-12.6h0m42.6-23.5h0"/><path stroke="#6ff086" d="m196.9 106h0m17.3-9.3h0m-15.3 9.1h0m82.5-46.1h0m-39.6 22.8h0m-44.2 23.5h0m-80.2 43.6h0m160.7-87h0m-31.3 17.2h0m-105.8 57.4h0m39.9-22h0m85-45.8h0m-73.5 39.6h0m114.2-60.2h0m-167.6 89.4h0m-4.3 2.1h0m-30.4 16.9h0m118.5-64.8h0m15.6-8.1h0m58.5-31.5h0m-133.2 71.4h0m-1.6 1.6h0m144.8-77h0m-89.3 46.6h0m57.7-31.6h0m-154.4 84.4h0m2-1.2h0m43.7-23.7h0m112.4-61.2h0m-175.5 95.6h0m142.5-77.3h0m-128.3 69.2h0m40.4-22.2h0m84.8-45.4h0m6.3-3.3h0m52.4-27.7h0m-197.5 105.8h0m128.6-69.1h0m-58.7 31.6h0m107.3-58.2h0m-175.5 95.4h0m83.2-45.2h0m-61.8 32.7h0m94.5-52.6h0m42.3-21.6h0m34.1-17.3h0m-55 29.5h0m18.1-9.9h0m-68.2 37.2h0m9.1-5.1h0m-90.6 48.4h0m46.9-24.6h0m150-79.6h0m-197.5 105.4h0m13.3-7.4h0m54.6-29.7h0m119.7-64.3h0m-179.6 95.3h0m164-87.5h0m-98.9 53.9h0m-3.7 1.4h0m120.6-64.6h0m-59.9 32.3h0m-20.1 10.1h0m-25.9 14.5h0m36.8-19.6h0m65.7-35.9h0m-173 94.3h0m138.4-76.2h0m26.5-13.6h0m-69.6 37.8h0m45.6-24.6h0m36.1-19h0m-155.8 84.1h0m89.4-48.7h0m-115.3 62h0m26-14.2h0m76.8-41.1h0m63.2-34.4h0m-177.8 96.7h0m64.7-35h0"/><path stroke="#72f083" d="m270.3 67.3h0m31.7-16.2h0m-107.3 57.5h0m53.2-28.9h0m-75.5 40.5h0m102.9-55.3h0m-21.1 10.9h0m-40 22h0m-45.1 23.7h0m13-6h0m-1.6 .6h0m-33.9 18.4h0m124.6-67.7h0m-81.8 44.3h0m114.4-60.8h0m-128.5 68.7h0m-67.6 36.4h0m77-41.3h0m53.4-30.4h0m-43.5 24.6h0m83.4-45.2h0m-3.3 1h0m46-17.3h0m-70.6 31.9h0m-37.6 20h0m-114.2 62.3h0m191-104.6h0m-65.2 36.2h0m8.7-4.9h0m-106.4 58.2h0m169.1-91.9h0m-159.4 83.5h0m110.7-57.3h0m-140.5 76.1h0m131.4-70.8h0m-138.5 75h0m143.8-78h0m-46.5 24.8h0m111.6-59.4h0m-59.2 31h0m-94.8 51.9h0m46.6-26h0m-81.1 44.6h0m30-16.8h0m-50.9 27.6h0m89.4-47.9h0m78.3-42.6h0m-77 42h0m93.7-51.4h0m-26.5 15h0m-43.6 23.3h0m102.9-51.5h0m-141.4 72.5h0m16.8-8.8h0m-95.1 51.5h0m171.7-93.2h0m-71.5 38.7h0m11.5-6.4h0m-35.7 19.1h0m1.6-1.8h0m-64.7 36.5h0m0 .2h0m154.8-84.1h0m17.5-9.8h0m-95.1 52h0m130.3-66.3h0m-102.8 51.2h0m-13.6 6.6h0m102.1-54.2h0m-15.8 7.1h0m-25.4 14.8h0m-118.5 64.3h0m78.3-42.1h0m-39.1 21h0m20-10.9h0m-7.6 4.3h0m-27.5 14.3h0m127.4-68.8h0m8-3.4h0m11.7-4.2h0m6.2-.1h0m-209.3 106.2h0"/><path stroke="#76f07f" d="m186.4 112.5h0m88.7-47.1h0m31.1-16.9h0m-151.6 81.7h0m18.8-10.4h0m121.6-65.3h0m-35.1 19.3h0m24.2-14.4h0m37.7-12.9h0m-34.4 12.4h0m-3.3 1.7h0m-3.1 1.9h0m-99.8 54.1h0m-3.4 1.8h0m47.2-25.7h0m-116.3 63.3h0m193.8-104.8h0m-142.7 76.8h0m-23.3 12.2h0m-12.8 7.6h0m-15.6 8.5h0m205.2-108.5h0m-22.8 9.5h0m-101.3 54.1h0m-27.6 15.9h0m-46.9 25.3h0m83.7-45.6h0m18-9.7h0m-74.5 39.4h0m68.9-36.2h0m22.6-12.1h0m-34.2 18.4h0m-41.2 22.5h0m35.7-19.5h0m-12.9 6.5h0m130.5-67.9h0m-74.7 37.7h0m-20.5 11.2h0m37.2-19.9h0m32.1-17.7h0m-154 84.1h0m-21.1 11.3h0m200-106.5h0m-98.7 51.4h0m69-37.9h0m5-3.3h0m-90.8 50.4h0m76.7-42.4h0m-36.7 20.6h0m1.9-1.2h0m32-17.5h0m-28.1 15.5h0m-96.5 52.2h0m66.2-35.4h0m12.6-7h0m-15.8 8.1h0m76.1-41.3h0m-172.9 93.8h0m63.8-33.9h0m-68.7 37.1h0m73.7-40.1h0m112.3-61.6h0m-183.7 100.7h0m102.1-55.7h0m49.4-26.9h0m-107.7 58.8h0m4.1-2.6h0m45-24h0m-1.5 .8h0m62.9-36h0m7.9-2.5h0m-38.7 20.3h0m-107.6 58.7h0m95.7-51.8h0m5.3-3.2h0m68.6-36.6h0m-131.1 71.3h0m-21.5 11.5h0m93.3-51h0m48.9-26h0m-29.5 15.3h0m46.9-24.7h0m-131.7 71.4h0m-43.7 23.6h0m109.5-60h0m-55.1 29.8h0m-25.8 14.6h0"/><path stroke="#7af07b" d="m261.3 73.3h0m-130.7 70.8h0m17.5-9.2h0m153-82.6h0m-189.7 102.6h0m11.1-7.1h0m165-88.4h0m-147.6 80.2h0m82.7-45.9h0m68.9-36.4h0m-153.9 83.6h0m-15.3 7.7h0m79.4-43.7h0m-58.3 32.7h0m49.8-27.3h0m43.2-23.3h0m-136 73.7h0m41.1-22h0m157.7-85.6h0m-5.6 2.1h0m-96.1 52.5h0m-74.2 40.6h0m183.9-98.9h0m-68.2 35h0m-108.7 59.8h0m66.2-36.3h0m-4.5 3.5h0m-13.4 6.6h0m2.3-.8h0m-66.1 36.2h0m128.1-70.8h0m-18 9.5h0m-117.3 65.2h0m45.2-25.5h0m46.5-24.8h0m74.6-40.2h0m16.6-9.4h0m-67 36.5h0m-32 17.1h0m-87.5 48.3h0m189.1-102.9h0m-185.4 100.5h0m4.5-2h0m-7.1 3.4h0m189.9-104.3h0m-17.4 10.9h0m2.9-1.4h0m-110.1 59.6h0m36.6-21.2h0m-64.5 35.5h0m141.2-75.9h0m-41.3 22.1h0m-37 20.7h0m-76.4 41.3h0m179.4-95.7h0m-164.4 86.4h0m145.5-77.9h0m-61.1 33.3h0m73.5-39.2h0m7.6-3.3h0m-8.8 3h0m-67.1 36.6h0m61.2-32.9h0m-169.5 91.1h0m2.6-.5h0m5.1-2.7h0m76.3-41.6h0m-22.7 12h0m61.9-33.7h0m21.4-11.4h0m-120.8 65.2h0m-43.6 24.3h0m116.4-63.1h0m20.4-11.4h0m70.7-35.5h0m-187.3 99.1h0m62.9-34.1h0"/><path stroke="#7ef078" d="m189.8 112.9h0m-67.2 36.5h0m29.8-16.4h0m45.3-24.2h0m111.4-59h0m-143.8 76.6h0m-17.1 9.2h0m113.4-62.2h0m-86.6 47.5h0m2.9-1.5h0m86.6-47.8h0m-38.9 21.8h0m-36 19.1h0m91.7-49.3h0m-83 44.2h0m-89.2 49h0m70.4-37.8h0m86.3-46.8h0m-101.7 55.1h0m158.1-79.4h0m-99.7 47.7h0m18.1-9.6h0m13.2-7.4h0m-128.5 69.7h0m42.8-23h0m129-70.6h0m-164.2 89.8h0m175.1-94.3h0m-195.7 105.6h0m205-108.8h0m-81.4 41.3h0m-54.6 29.8h0m17.8-9.6h0m-4.8 1.9h0m-13 7.6h0m113.6-61.4h0m-139.1 75.6h0m24.6-13.4h0m-31.4 17.1h0m89.2-49.4h0m-127.7 69.7h0m104.3-56.9h0m-77.4 42.4h0m127.3-68.7h0m10.2-5.9h0m-100.5 54.9h0m27.1-15.8h0m50.8-26.5h0m20.7-11.4h0m38-18.5h0m-51 24.4h0m44.1-23.5h0m-132.4 73h0m-16.6 8.2h0m-25.9 14.8h0m-25.3 13.5h0m207.9-110.7h0m-93.6 48.9h0m-56.5 30.2h0m-5 2.7h0m128.9-69.7h0m-133.8 72.9h0m161.6-85.4h0m-145 76.3h0m-39.7 20.9h0m98.4-52.8h0m-122.6 66.2h0m24.2-12.7h0m156.6-85.2h0m-70.5 38.6h0m-75.8 41.3h0m94.8-52.1h0m31.7-16.8h0m-84.1 45.5h0m-9.6 5.3h0m32.5-18h0"/><path stroke="#82f076" d="m189.8 113.4h0m-22.4 12.1h0m1.1-.3h0m21.1-12.4h0m-57 32h0m-24.6 13.3h0m78.4-43.1h0m-73 38.3h0m51-26.1h0m-7.1 4h0m-29.6 16.3h0m49.9-27.7h0m72.3-39h0m-73.1 39.6h0m117.3-63.3h0m-22.6 12.2h0m-102.9 56h0m25.2-14h0m-77.4 41.4h0m82.5-43.8h0m17.9-10.1h0m83.5-45.4h0m-79.9 41.9h0m-83.9 47.5h0m-8.8 4.2h0m94.7-51.8h0m34.9-18.4h0m-107 58.5h0m36.5-19.8h0m112.1-61.1h0m10.6-4.4h0m-74.5 39.2h0m-32.1 16.7h0m-45.1 25.2h0m47-25.4h0m14.1-9.1h0m43.1-22.1h0m-102.2 55h0m-56.5 31.3h0m198.1-107.3h0m-84.1 45.1h0m-109.8 59.7h0m68.1-36.8h0m-2.1 1.1h0m-39.2 21.3h0m-14.3 7.9h0m91-49.9h0m42.9-23.1h0m-96.7 52.3h0m2.9-1.3h0m-28.6 15.9h0m53.8-29.4h0m124.2-65.9h0m-34.6 16.7h0m-128.3 70.1h0m-28.2 15.5h0m-12 5.8h0m186.7-100.9h0m-161.1 87.8h0m138.8-75.7h0m4.6-2.2h0m-38.5 21h0m-32.3 17.4h0m103.5-54.8h0m-15.3 5.7h0m-80.6 45h0m6.9-3.5h0m20.6-11.9h0m-1 .4h0m-63.9 35.2h0m-14.8 8.4h0m-36.8 20.1h0m31.6-17.8h0m-12.1 5.4h0m53.9-27.9h0m114.2-60h0m-1.7 .4h0m-106.9 56.1h0m113.8-58.4h0m-178.3 93.9h0m133.3-72.1h0m31.2-16.5h0"/><path stroke="#87f075" d="m126.6 148.8h0m84-46.3h0m-108.7 59.4h0m58.3-31.5h0m109.2-61.2h0m46.8-20.5h0m-135.3 70.3h0m43.3-23.3h0m-66 35.8h0m-51.2 27.9h0m46.9-25.7h0m38.9-21h0m48.9-26.7h0m39.2-21.2h0m27.5-13.9h0m-114.8 61.3h0m70.8-38.8h0m21.2-11.2h0m-55.1 29.9h0m31.1-16.9h0m-113.4 61.9h0m151.2-82.1h0m-132.6 71.8h0m125.1-68.2h0m-113.4 61.9h0m41.4-22.5h0m61.3-34h0m-174.6 95.2h0m139.6-76.1h0m-21.6 12.1h0m-56.8 30.4h0m36.8-19.2h0m-81.5 44.3h0m96.7-52.7h0m40.9-22.2h0m49.5-25.2h0m-104.5 54.9h0m-26.1 14.5h0m-61.6 33.7h0m146.7-80.4h0m42.1-22.2h0m-113.2 60.9h0m-77.6 42.8h0m193-103.8h0m-179.5 95.9h0m54.4-29h0m80.1-43.7h0m-7.5 4.1h0m-70.5 38.3h0m113.4-61.8h0m-21.5 11.9h0m-108.8 59.3h0m39.4-21.5h0m12.3-6.7h0m12.3-6.7h0m-108.9 59.3h0m56.6-31h0m-19.7 11h0m53.1-29h0m-97.8 52.6h0m45.1-24h0m35.7-19.5h0m-10.8 5.7h0m-1.2 1.1h0m111.2-60.5h0m-163.2 88.5h0m-20.9 11.5h0m184.1-100h0m-182.5 98.3h0m163.1-88.4h0m-167.2 91.6h0m15.6-8.6h0m101.8-55.5h0m-60.5 33.2h0m-39.1 20.7h0m94.9-51.6h0m-59.9 33.1h0m-52.1 28.3h0m138.6-76h0m-90.3 49.5h0m99.5-54.1h0m-56 29.7h0m-32.5 18.8h0m-13.2 7h0m51.6-28.3h0m-39.5 21.9h0m130.7-72.6h0m-28.4 16.7h0m-85.3 44.7h0m54.4-28.7h0m-38.7 22.1h0m-84.5 45.4h0m3.4-1.2h0m82.1-45.1h0m-18.5 10.2h0m135.7-69.3h0m-7.2 1.7h0m-102.5 53.6h0m73-39.8h0m-87.9 47.8h0m49.2-26.9h0m16.2-9.2h0m-82.9 45.8h0m69.3-38h0m48.6-26.1h0m-176.9 96.1h0m158.3-86h0m3.7-2.4h0m-37.9 20.1h0"/><path stroke="#8bf073" d="m216.9 98.6h0m-97.8 54.8h0m74-40.2h0m77.9-42.7h0m-62.3 34.2h0m47.8-25.9h0m12.1-6.8h0m-51.4 27.1h0m45.6-23.9h0m29.9-16.6h0m-7.8 4h0m-81.7 45.2h0m-86.5 47.1h0m27.4-15.1h0m146.5-81.6h0m-17.7 11h0m-127.5 69.3h0m125.7-67.9h0m19-11.9h0m-180.5 100.2h0m191.5-104.3h0m-180 96.5h0m56.4-29.3h0m69.4-38.1h0m15.1-7.9h0m7-3.8h0m-9 4.5h0m-6.9 3.9h0m-145.2 78.1h0m161.2-86.9h0m21.2-11.4h0m-88.2 47.9h0m10.4-5.6h0m8.3-4.3h0m-73.1 39.7h0m58.3-31.5h0m93.3-51.2h0m-8.7 3.4h0m11.8-4.4h0m-12.2 6.4h0m26.4-11.4h0m-23.9 10.1h0m-168.3 91.5h0m43.2-23.6h0m48.5-27.4h0m-58.1 32.8h0m120.6-65.7h0m-70.8 38.3h0m64.7-35.3h0m-110.7 60.6h0m38.8-21.2h0m-28.4 15.4h0m23-12.6h0m-44.9 24.3h0m85.1-46.2h0m-13 7.2h0m-42.1 22.2h0m26.8-14h0m-102.8 56h0m127-68.9h0m-26.6 13.7h0m-58.3 32h0m58.8-31.7h0m-98.6 53.3h0m200-109.2h0m-67.3 37.2h0m70.7-37.2h0m-41.4 21.5h0m-159.6 86.4h0m144.5-78.2h0m-18.9 9.6h0m-85.9 47.7h0m-5.1 2.5h0m142.7-77.4h0m-10.9 5.6h0m-157 85.4h0m62.3-34.6h0m-46.2 26.2h0m69.4-37.9h0m-78.9 42.8h0m153-83h0m-106 57.8h0m74-40.5h0m-68.8 37.1h0m88.8-48.1h0m5.2-2.8h0m4.6-2.8h0m-88.5 47.9h0m-8.6 5.5h0m-67.1 36.6h0m130.7-71.6h0m-57.5 31h0m-63.6 35.4h0m144.7-79.4h0m30.6-16.4h0m-40.8 21.7h0m-9 5.7h0m-36.9 20.3h0m82-44.9h0m-134.2 73.3h0m-47.8 26.1h0m137.6-75.6h0m-78.6 43.3h0m18.1-10.1h0m20.3-11.1h0m-91.5 49.6h0m197.3-107.3h0m-84.5 46.5h0m-112.7 61.4h0m121.3-66.8h0m-62.1 34.3h0"/><path stroke="#90f072" d="m282.9 64.8h0m37.4-15.5h0m-16.3 4.2h0m-167.1 90.4h0m100.8-54.9h0m32.3-17h0m-163.1 88.6h0m103.9-56.6h0m86.6-47.5h0m-29 16.3h0m-30.9 16.5h0m-2.6 1.9h0m-92.4 50.4h0m-34.1 17.3h0m215.4-109.5h0m-172.2 86.8h0m156.5-84.4h0m1.4 0h0m-127.6 68.1h0m75.5-41h0m-62.1 33.3h0m82.5-44.9h0m17.3-9.3h0m-109.6 59.4h0m66.3-35.5h0m-33 17.8h0m39.1-21.4h0m-19.8 11.3h0m-78.3 42.1h0m149.4-79.7h0m-155.1 83.2h0m-13.9 7.2h0m166.2-89.2h0m-110.9 58.7h0m66.8-35.9h0m-108.1 59h0m-8 4.5h0m3.3-1.9h0m153.2-83h0m-135.5 73.4h0m-46.1 24.7h0m110.7-60.3h0m-55.7 30.7h0m-39.8 21.6h0m-5.2 3.3h0m156-85.3h0m-94.4 51.3h0m58.2-31.4h0m-127.2 69.4h0m68-37h0m-10.9 5.7h0m69.6-39.6h0m-142.7 79.7h0m88.7-48.5h0m-33.8 18.3h0m144.4-77.7h0m-34 17.6h0m-14 7.2h0m-148.1 81.2h0m11.5-7.3h0m130.9-71.5h0m-32.7 18.2h0m-105.6 58.4h0m61-33.8h0m16.8-8.5h0m-41.4 22h0m59.1-31.6h0m57-31.1h0m-10.2 5.2h0m-98.1 53.9h0m28.2-15.5h0m60.6-33h0m25.5-13.8h0m-11 5.5h0m-83.6 45.8h0m-68.9 36.9h0m127.4-68.5h0m-33 18h0m102-55h0m-94.2 50.6h0m8-4.2h0m41.6-22.7h0m-122.6 66.6h0m111.3-60.4h0m30.6-17h0m-70.6 38.7h0m-90.5 49.3h0m98.4-53.9h0m-42.7 23.5h0m-22.1 12.2h0m-21.3 11.1h0m23.2-12.7h0m67.5-36.1h0m-52.5 28.5h0m66.7-36.5h0m1.2-.7h0m33.2-19.7h0m-72.4 41.1h0m-62.9 33.9h0m8.9-4.1h0m133.8-73.2h0m-44.6 24.5h0m-17.5 9.4h0m-88.4 48.2h0m92.6-50.7h0m49-26.7h0m-26.3 14.7h0m-72.5 39.6h0m7.4-4.4h0m-18.5 10.2h0m91.3-49.7h0m20.1-11.1h0m35.2-18.5h0m-90.9 49.1h0m-13.3 7.3h0m-12.6 6.7h0m71.7-39h0m-81.5 43.9h0m41.4-22.1h0m66.1-36.1h0m18.2-9h0m5.4-2.3h0m-162.3 87.2h0m32.4-17.7h0m108.7-60.4h0"/><path stroke="#94f070" d="m155.3 134.9h0m106.6-57.8h0m-88.6 47.8h0m-9.7 5.8h0m-49.3 26.9h0m24.2-13.3h0m174-93h0m-85.4 44.3h0m-120.4 65.6h0m28.8-15.2h0m27-15.9h0m150.2-78.7h0m-189.5 100.7h0m92.6-49.8h0m-31.6 17.1h0m124.3-67.3h0m-125.1 67.8h0m62.6-35.5h0m34.5-17.7h0m-115.1 63.1h0m67.9-37.3h0m53.5-29.2h0m-123.4 67.5h0m-53.2 29.1h0m159.9-88h0m16-8h0m-11 6.2h0m-155.9 82h0m42.6-20.3h0m60.6-35h0m44.9-22.5h0m-100.9 55h0m-41 22.2h0m-15.5 8.1h0m126.2-68.3h0m-39.4 21.5h0m-11.6 5.7h0m34.3-19.1h0m52-27.3h0m33.1-17.5h0m-135.2 72.8h0m64-34.6h0m-61.5 32.8h0m-29.4 16.4h0m43-23.2h0m-57.8 31.3h0m115.4-62.5h0m33.8-18.4h0m-168.1 91.8h0m148-81h0m-142.5 77.1h0m2.2-.4h0m25-15.8h0m56.9-29.6h0m59.3-31.8h0m-44 24.2h0m66.1-36.5h0m-58.5 32.3h0m73.9-41.4h0m-35.4 20.5h0m69.3-27.9h0m-17.5 1.3h0m-42.3 20.9h0m30-15.7h0m-174.2 94.8h0m-12 6.7h0m39.2-21.8h0m3-2.2h0m114.7-61.6h0m-97.7 51.3h0m73.4-38.1h0m-62.5 33.4h0m68.6-36.6h0m-40.3 21.3h0m67.4-36.3h0m-58.1 31.9h0m13.5-7.5h0m52.1-28.3h0m-66.5 36.3h0m64.4-35.3h0m-26.9 14.6h0m48.1-26.1h0m-111.8 60.4h0m59.5-31.8h0m15.3-8.2h0m-150.7 81.8h0m100.5-55.3h0m-60.3 33.5h0m90.5-50.5h0m40.8-21.1h0m-119.4 65.1h0m-37.2 20.1h0m149.8-81.3h0m-71 38.6h0m27.8-15.5h0m2.1-1.1h0m44.3-23.8h0m-90.3 47.7h0m13.9-5.9h0m11-6h0m-93.7 51.1h0m181-98.7h0m-176.4 96.1h0m93-50.8h0m16.8-9.7h0m1.3-.1h0m-91 49h0m96.4-53h0m71.3-34h0m-207.4 109.3h0m192.5-104.4h0m-88.4 47.7h0m-107.7 58.9h0m111.1-61.3h0m-39.3 22h0m87.1-48.7h0m-101.6 56.6h0m81.8-44.5h0m.5-.4h0m-102.3 55.7h0m154-84h0m-127.3 69.5h0m86.8-47.3h0"/><path stroke="#99f06f" d="m221.1 99.9h0m-63.3 34.5h0m146.3-79.4h0m-28 15h0m-8 4.2h0m-54.6 29.5h0m89.5-48h0m-180.3 97.9h0m92.9-50.9h0m11-6.6h0m-80.7 45.1h0m67.2-36.9h0m37.1-20.3h0m70.1-33.8h0m-114.9 57.6h0m-.4 .3h0m-58 31.9h0m140.8-76.5h0m-16.4 8.8h0m-14.6 8.3h0m-30.6 14.5h0m-85.1 48.7h0m77.3-42.2h0m-23.8 11.7h0m88.5-47h0m-39.7 21h0m40.8-21.5h0m-138.6 75.6h0m61.2-33.8h0m-92 50.4h0m192.4-105.5h0m-126.8 69.5h0m-21.6 12.1h0m-38.8 21.2h0m-7.3 3.4h0m160.9-87.6h0m-7.7 4.3h0m-10.7 5.6h0m59.5-29.7h0m-55.6 28h0m-98.7 53.9h0m.9-.3h0m-36.3 19.2h0m46.5-24.8h0m119.1-65h0m-127.4 69.6h0m147.4-79.2h0m-51.9 26.9h0m-136.2 74.5h0m56.2-31h0m107.1-58.6h0m-94 51.7h0m74.8-40.7h0m34-18.8h0m-97.1 53h0m83.2-45.7h0m-37.4 20.9h0m58.4-30.9h0m-16.2 8h0m-64.6 33.8h0m61.7-32.5h0m-178.7 97.4h0m29.2-15.6h0m139-75.9h0m19.7-10.7h0m-155.5 84.6h0m69.8-37.8h0m94.9-50.9h0m-61 31.8h0m-110.5 60.3h0m54.5-29.2h0m60-33.6h0m24.8-12.9h0m8.7-4.5h0m-39 20.8h0m-104.4 57.4h0m71.1-38.7h0m29.7-16.3h0m-44.6 23.8h0m117.7-61.5h0m-112.4 59.4h0m52.4-29h0m48.1-25.9h0m-77.8 42.3h0m-62.5 33.6h0m51.2-28h0m-103.7 57.2h0m106.7-58.1h0m81.8-44.7h0m-108.8 59.4h0m23.4-13.7h0m95.6-50.6h0m-10.4 5.2h0m-183.2 98.4h0m.6 .9h0m69.9-37.8h0m-21.5 11.5h0m150.7-80.2h0m-188.8 100.8h0m144.1-78.3h0m41.9-22.7h0m-4.8 3.1h0m-174.8 94.4h0m194.4-98.6h0m-157.9 79h0m-32.7 17.7h0m38.7-21.1h0m45-24.6h0m40-21.6h0m-45.1 24.7h0m92.2-50h0m-106.2 57.5h0m-31.2 17.1h0m23.2-12.8h0m-45.8 25.2h0m97.8-53.3h0m-126.8 68.9h0m84.5-45.8h0"/><path stroke="#a7ef6a" d="m127.7 151.8h0m-4.8 2h0m62.1-33.4h0m26.5-14.8h0m-86.7 46.6h0m82.1-43.7h0m-82.9 44.8h0m27.6-14.8h0m171.9-88.2h0m-22.5 6.6h0m-99.1 53.9h0m99.2-53.8h0m-129 70.5h0m88.9-48.6h0m-47.5 25.9h0m-.9 .6h0m-26.4 14.3h0m-60.3 32.5h0m112.6-60.9h0m-127.8 69.9h0m60.9-33.7h0m63.8-34.4h0m-42.1 22.9h0m-7.4 4h0m-44.2 23.3h0m32.4-16.8h0m49.3-27.2h0m44.8-24.2h0m4.8-2.6h0m8.3-4.4h0m-52 28h0m-116.5 64h0m76.7-42.7h0m-30.6 17.4h0m53.4-29.1h0m-82.1 44.5h0m71.9-38.9h0m-80.3 44h0m22.4-12.8h0m40.7-21.7h0m134.4-69.8h0m-61.2 29.4h0m44.8-23.9h0m-191.8 104.3h0m-2.6 1.3h0m190.4-104h0m-19.5 11.1h0m-20.7 10.6h0m47.6-24.6h0m-55.2 29.4h0m54.5-29.1h0m-113.2 61.2h0m77.7-42.6h0m14-7.6h0m26.8-13.2h0m-162.9 87.7h0m93.1-50.8h0m-102.5 55.4h0m148.2-82.7h0m30.7-11.9h0m-56.4 28h0m18.1-10.1h0m-25.6 14.4h0m-126.2 68h0m194.8-100.7h0m1 0h0m-97.9 47.9h0m3.9-2h0m-14.6 7.6h0m-7.2 4.6h0m55.2-30.4h0m-57.8 31.7h0m68.3-37.7h0m-156.6 85.5h0m188.4-102.1h0m-141.6 77.1h0m98-54h0m-36.9 20.2h0m96.8-48.2h0m-83.4 40.8h0m-33.6 18.7h0m-79.6 43.4h0m23.2-13.1h0m50.4-26.9h0m-56.8 31h0m58.1-32.3h0m57.1-31.1h0m-16 9h0m77.2-38.8h0m-120.8 62.2h0m-42.3 23.2h0m10.8-5.5h0m53.7-29.7h0m-47.3 26.5h0m105.1-57.5h0m-104.1 55.4h0m96.5-51.4h0m-81.6 44.7h0m35.4-20.3h0m-47.7 27.2h0m48.8-26.7h0m6.4-3.6h0m38.9-21.6h0m-110 60.6h0m125.3-68.6h0m-80.1 43.9h0"/><path stroke="#c0ec63" d="m319.7 51.1h0m-35.6 15.9h0m-126.3 68.8h0m87.7-47.7h0m-124.2 67.8h0m79.3-43.8h0m-51.3 28.4h0m-22.7 12.2h0m197.4-102h0m-131.3 65.6h0m94.5-51.1h0m-6.6 3.6h0m-128.5 70.4h0m4.5-2.7h0m154-82.9h0m-68.5 35.8h0m-81 44.8h0m94.8-52.3h0m26.1-14.1h0m-157.3 86.4h0m172.6-94.7h0m-91.6 48.4h0m.8 .9h0m-27.4 15h0m23.6-12.6h0m125.2-59.9h0m-113.6 53.4h0m100.1-52.7h0m-96.7 51.2h0m47.8-26.4h0m-73.2 40.5h0m26.8-15h0m108.1-51.3h0m-185 93.7h0m-13.6 7h0m-15.7 8.9h0m11-6.2h0m9.1-4.8h0m88.6-48.6h0m-67.7 36.5h0m19-9.8h0m55.4-30.1h0m-44.9 24.7h0m-56.8 30.8h0m61.8-33.6h0m115.4-62.7h0m-81.1 43.5h0m-73.9 40.7h0m45-24.5h0m-57.5 30.7h0m138.3-75.1h0m-98.5 53.9h0m-36.7 20.3h0m138.7-76.1h0m-55.5 30.5h0m97.2-50h0m-177.5 93.7h0m-.1 .2h0m82.2-44.7h0m25-13.7h0m-89 48.5h0m163.3-83.6h0m-76.6 35.7h0m-13.8 8.2h0m20.1-11.4h0m-16.8 8.8h0m36.1-19.3h0m-72.4 39.1h0m1.6 .1h0m-13.1 7h0m32.7-18h0m-93.1 50.9h0m90.4-49.5h0m-1.1 .9h0m-29.5 15.8h0m-68.8 37.4h0m169.9-92.4h0m38.1-13h0m-189.3 94.8h0m79-42.3h0m75.1-41.1h0m-158.4 86.8h0m94.5-51.7h0m-71 38.6h0m41.4-22.7h0m102.4-56.4h0m-62.9 34.7h0m70-37.5h0m-132 71.6h0m-56 30.8h0m129.3-70.7h0m55.4-30.7h0m-192.8 105.9h0m8.7-5h0m195.1-104.2h0m-24.2 10.9h0m-141.8 77.5h0m40.4-22.1h0m-27.7 14.8h0m9.4-5.1h0m-55.2 29.7h0m150.1-81.4h0m-27.2 14.8h0m-89 47.9h0m-15.1 9h0m141.6-77.2h0m-136.1 74.5h0m118.6-64.9h0m-59.5 32.1h0m-38.6 21.2h0m-8.2 4.3h0m21.6-11.2h0m136.6-73.5h0m-105.5 56.1h0m83.8-45.3h0m-102.9 56.2h0m-28.5 15.7h0"/><path stroke="#d8de5b" d="m305.4 56.2h0m-163.1 88.2h0m14.4-7.5h0m102.1-55.5h0m11.2-6.1h0m-54.4 29.6h0m.9-.3h0m-90.1 49h0m95.4-52.1h0m-109.9 60.3h0m206-109.7h0m-204.4 107.4h0m12.5-5.6h0m157.2-86.4h0m-140.3 77.3h0m159.9-87.2h0m-1.7 .9h0m-80.1 43.6h0m-92.2 50.1h0m125.4-68.8h0m57.3-29.6h0m-193.4 104.4h0m68.3-37.3h0m31.5-17h0m52.2-29h0m-6.1 2.5h0m-72.8 40.8h0m-10.4 6h0m140-72.5h0m-12.5 3.5h0m-148.7 79.9h0m122.7-66.4h0m-85.7 46.1h0m.6 .2h0m-64.5 34.8h0m-20.9 11.6h0m190.7-103.6h0m-160.5 87.6h0m-23 12.2h0m113.7-61.8h0m-46.4 25h0m82.5-44.8h0m-134.9 74h0m61.3-33.8h0m-15.8 8.8h0m89.7-49.5h0m39.6-20.2h0m-186.3 100.9h0m88.6-48.6h0m53-28.9h0m-113.3 62h0m36.6-20.2h0m-37.2 20.5h0m37.7-20.7h0m-5.6 3.1h0m87-47.5h0m-16 8.3h0m-74.4 41.3h0m35.5-19.9h0m65-35.8h0m26.6-13.3h0m-20 10.3h0m27.1-13.2h0m-70 36.5h0m57.4-31.4h0m-14.7 8.1h0m-148.3 81.1h0m-11.9 6.6h0m32.5-17.7h0m91.6-50.8h0m-87.5 48.6h0m-3.4 1.7h0m-39.7 21.4h0m176.7-97.5h0m-182.8 101h0m84.4-46.2h0m10.1-5.2h0m24.2-13.2h0m-3.1 1.2h0m68.1-36.7h0m-46.3 25.3h0m35.6-19.8h0m-149.2 80.9h0m70.9-37.8h0m62.2-34.2h0m-3.9 2.4h0m-132.2 72.4h0m18.1-10.8h0m55.9-29.7h0m8-4.6h0m-69.3 37.9h0m101.1-55.4h0m30.7-17.2h0m-136.3 75h0m-8.5 5h0m4.7-2.9h0m35-19h0m.8-1.3h0m7.1-3.4h0m137.2-71.7h0m-148.7 78h0m53.2-28.6h0m65.8-36h0m-143.9 78.8h0m16.9-9.2h0m69.2-38h0m60.7-33.3h0m-127.9 70.1h0m85.6-47.5h0m-104.1 57.1h0m100.6-54.9h0m39.9-21.4h0m12.2-6.8h0m-93.7 51.4h0m48.2-26.8h0m-23.7 13.2h0m13.1-7.4h0m47.1-25.3h0m32.8-13.7h0m-26 10.1h0m-44 23.9h0m-15.4 8.4h0m-111.4 61.1h0m190-102h0m-169.8 90.9h0m87.3-48.2h0m77.3-41h0m-150.8 81.7h0m79.9-43.9h0m8-4.3h0m-70.6 38.4h0"/><path stroke="#eec652" d="m321.9 50.9h0m-95.1 48.5h0m88.2-47.1h0m-155.5 83.6h0m71.2-38.6h0m37.9-20.9h0m-141.6 77.8h0m63.3-35.2h0m-50.6 28.1h0m142.9-78.5h0m-109.8 60h0m102.8-55.9h0m-147.9 81h0m132.5-72.4h0m-49.1 26.5h0m3.6-1.6h0m-15 8.2h0m98.5-54h0m-28.1 15.1h0m-110.1 60.3h0m65.4-35.9h0m78.8-43.3h0m-81.2 44.4h0m-72.2 40.2h0m93.9-51.5h0m-86.4 47.1h0m162.1-85.5h0m-106.1 55.2h0m27.8-15.5h0m-5.2 2.7h0m63.8-34.6h0m-39.8 21.9h0m-53.7 29.3h0m-75.4 41.2h0m87.7-48.1h0m93.2-49.5h0m-59.1 30.9h0m-11.1 6.3h0m17.9-10.1h0m-24.7 13.7h0m51.7-28.2h0m-17.3 9.4h0m-25 13.7h0m70.4-37h0m-135.8 72.8h0m92.9-50.8h0m-12.9 6.9h0m-40.6 22.4h0m-.8 .1h0m8.7-4.6h0m-17.5 9.5h0m-15.8 8.9h0m-72.3 39.5h0m117.4-64.3h0m25.7-14h0m33.5-18.7h0m-104.9 57.9h0m-30.3 16.4h0m61.3-33.6h0m-83.8 46.1h0m-24.5 13.4h0m205.8-108.7h0m-179.6 94.1h0m-3.7 1.9h0m-14.5 8.3h0m93.8-51.3h0m72.1-39.4h0m-140.1 76.2h0m141.4-77h0m-98.9 54.1h0m-2.5 1.2h0m88.9-48.6h0m-107 58.8h0m122.2-66.9h0m-143.9 78.8h0m35.7-19.7h0m-51.8 28.5h0m161.2-88.2h0m6.2-3.8h0m-21 11.9h0m3-1.8h0m-21.1 11.7h0m-60 32h0m104.7-55.8h0m-132.5 71.8h0m90.9-50h0m-53.8 29.3h0m-45.3 25.3h0m89.4-49h0m-82 44.9h0m14.4-8h0m101.3-55.5h0m-100.3 55.1h0m25.5-15.2h0m1.6 .4h0m39.6-21.9h0m-88.7 48.6h0m-.4 .4h0m-29.6 15.9h0m-16.2 8.4h0m136.5-74.1h0m-89 48.1h0m28.2-15.2h0m-47.8 26.5h0m115.4-63.2h0m-71.3 39.1h0m-74.5 40.9h0m206.7-107.8h0m-96 47h0m29.8-16.7h0m-96.4 53.4h0m135.5-74.4h0m-31.6 17.6h0m-142.6 78h0m136.7-75.2h0m-11.6 6.7h0m-94.1 50.6h0m137.7-74.5h0m-35.4 19.5h0m-74.9 40.4h0m123.3-67.3h0m-139.6 76.9h0m-52.7 28.4h0m183.6-100.2h0m-130.4 71.4h0m137.8-75.3h0m5.3-2h0"/><path stroke="#f7ab4a" d="m265.2 78.9h0m-94.2 51.8h0m99.5-54.5h0m-137.2 74.5h0m140.4-76.3h0m-107.5 58h0m-49.9 28.1h0m199-106.8h0m-137.8 73.2h0m-21.4 11.4h0m82-44.8h0m68.9-37.6h0m-166.6 91.4h0m-6.3 3.6h0m70.5-38.8h0m59-32.1h0m13.6-7.4h0m6-3.8h0m19.1-9.8h0m-2 1.1h0m-133 72.6h0m74.8-41.1h0m-86.1 46.8h0m78.2-42.7h0m34.6-18.5h0m23.7-13.6h0m-129.5 71.4h0m115.7-63.2h0m-155.4 85h0m135.1-74.8h0m44.2-23.3h0m-58 31.5h0m-50.9 28.1h0m49.2-27h0m-83.8 45.3h0m30.5-16h0m-3.9 2h0m14.2-7.7h0m115.5-61.3h0m-120 63.6h0m124.3-64.6h0m-124.2 64.5h0m123.3-64.7h0m-170.8 90.5h0m-.8 .9h0m-3.9 1.9h0m10.4-5.9h0m-22.1 12.6h0m-8.5 4.5h0m78.6-43h0m62.7-35h0m35.9-18.8h0m-164.2 89.7h0m172.4-93.6h0m5.9-2.1h0m16.5-1.6h0m-11.5 .2h0m-94.7 48.1h0m-69.4 38.2h0m74.3-40.4h0m-54.2 29.9h0m131.4-71.6h0m11-4.6h0m-30.3 14.8h0m-1.7 .4h0m-124.1 68.5h0m44.2-24.5h0m-73.2 39.3h0m39.8-20.8h0m66.3-36.3h0m-66.1 35.8h0m-39.1 21.4h0m5.9-2.8h0m75.3-41.1h0m-60.8 32.8h0m109.8-59.9h0m-74 40.7h0m-73.2 39.6h0m181.9-99.4h0m-18.6 9.6h0m-81.4 45.3h0m87.9-48.4h0m-138.9 76.6h0m129.9-71.3h0m-83 45.6h0m48.4-26.8h0m-32.6 17.9h0m-69.3 38.1h0m140-76.7h0m-101 54.8h0m130.4-70.7h0m-45.4 24.8h0m-71.5 39.2h0m92.8-51.8h0m-21.8 12.3h0m-7.5 3.6h0m-65.2 36.9h0m-19.6 10.2h0m122.7-66.8h0m-15.6 8.3h0m-134.4 73.9h0m104.4-57.7h0m-92.9 51.3h0m3-1.5h0m83.1-45.6h0m78-39.5h0m-134.2 70.3h0m-22.6 12.5h0m-5.1 2.8h0m92.3-51.4h0m2.5-.8h0m7.1-3.8h0m-98.9 54h0m144.1-78.3h0m-64.1 34.8h0m-84.7 46.2h0m-40.2 21.9h0m47.1-25.5h0m-32.5 17.8h0m105.3-58.2h0m58.1-31.2h0m-69.5 37.3h0m86.5-45.4h0m9-2.9h0m-25.3 10.6h0m-15.6 8.3h0m-29.8 16.5h0m-113.6 61.4h0m-8.6 5.5h0m172.8-94.4h0m-37.5 20.1h0m-115.1 63.3h0m144.8-79.3h0m-21.9 11.9h0m-14.8 8.2h0m-26.6 13.7h0m91.5-45.9h0m-37 17h0m-104.1 57h0m55.2-30.2h0m86.5-43.7h0m-77.1 38.6h0m-40.1 21.9h0"/><path stroke="#fa8f42" d="m301.4 59.9h0m-42.7 22.4h0m62.1-29.6h0m-95.9 48.5h0m57.9-31.5h0m31.6-15.3h0m-44.6 22.7h0m-129.4 71h0m28.9-16.5h0m87.3-47.9h0m-28.5 16h0m85.2-45.3h0m-194.9 105.7h0m100.8-56h0m-94.7 51.9h0m78.3-42.2h0m-69.6 38.3h0m83.7-46.2h0m-29.5 16.4h0m25.8-14.2h0m-5.5 2.1h0m89.6-47.9h0m-1.7 .6h0m-166.2 90.6h0m-5.8 3.8h0m100.6-55.2h0m76.6-42.1h0m-83.3 45.6h0m44.9-24.4h0m-113.8 62.4h0m40.8-22.4h0m67.9-37.7h0m-8.6 4.4h0m-37.6 21.5h0m50.1-27.6h0m24.9-13.7h0m-89.4 49h0m96.9-53.1h0m-17.5 9.8h0m30.1-16.1h0m-20.7 10.9h0m9-4.9h0m-122.8 67.1h0m34.5-18.8h0m-22.5 12.5h0m148.1-71.6h0m-117.1 54.6h0m36.8-20.6h0m1.8-.8h0m-81.8 45h0m-40.7 22h0m72.2-39.4h0m-64.2 34.8h0m143.6-78.2h0m-56.4 30.7h0m-92.6 51h0m95.7-52.7h0m-23.6 13.2h0m103.8-56.3h0m-44.8 24.1h0m-13.5 7.1h0m17.1-9.9h0m-97.1 53h0m122.5-66.4h0m-150.6 82.8h0m116.7-64.5h0m-88.5 49h0m79.7-43.8h0m31.8-17.3h0m-146.2 80h0m184.7-98.5h0m-38 18.3h0m-113.9 61.4h0m-24.7 14.4h0m-12.9 6.3h0m104.8-56.5h0m81.4-42.1h0m-176.1 94h0m166.9-90.9h0m-96.5 52.2h0m-28.6 15.9h0m71.8-40.6h0m-7.8 4.4h0m66.3-33.8h0m-166.5 89.5h0m-14.5 8h0m130.2-73.3h0m-1.5 3h0m24.6-13.5h0m-109.4 59.9h0m-58 31.9h0m105.2-57.9h0m-41.3 22.6h0m47.2-25.9h0m-18 10.2h0m79.6-43.6h0m-10.9 5.8h0m26.7-14.5h0m-75.4 41.3h0m-22.8 12.1h0m70-38.4h0m-120.4 66h0m124.6-67.8h0m4-2.3h0m-140.4 76.8h0m84.9-46.8h0m48.3-26.1h0m-150.6 82.5h0m92.6-51h0m-71.7 39.6h0m.8-1h0m79.7-43h0m-80.7 43.7h0m52.3-28.4h0m-43.4 23.7h0m115.3-62.9h0m-76.2 41.8h0m-23.4 12.8h0m-19.7 10.8h0m95.4-52.4h0m74.1-35.7h0m-17.4 5.2h0m18.1-5.4h0m-63.9 30h0m-119.7 65.7h0m172.3-93.3h0m-173.3 93.3h0m-24.7 14.1h0m66.1-36.4h0m14.9-8.1h0m59.8-33h0m-135.8 74.5h0m138.1-75.5h0m-20.2 11.1h0m-52.2 28.4h0m51.9-28.1h0m-16.2 8.1h0m-101.8 56.3h0m-1.1 .5h0m17.6-9.3h0m102.7-56.3h0m-24.3 13.3h0m43-23.5h0m-121.8 66.6h0"/><path stroke="#fb7d3d" d="m116.7 161.2h0m87.4-47.9h0m52.1-28.3h0m-128 70.2h0m116.4-63.9h0m43-23.6h0m-30.1 16.7h0m-76.5 41.8h0m-26.9 14.4h0m119.8-65.3h0m-63.1 34h0m-42.7 23.8h0m109.2-59.9h0m-122 67.2h0m-10 5.1h0m16.1-8.3h0m-24.8 13.3h0m25.1-13.7h0m155-83.9h0m-184.5 100.3h0m63.9-35.1h0m-29.9 16.2h0m70.8-39.1h0m33.2-17.9h0m-2 1.2h0m-47.6 26h0m-21.7 11.7h0m89.4-48.8h0m-155.3 85.3h0m109.1-59.8h0m17-9.7h0m-138.2 76.2h0m24.9-14.7h0m119.1-64.2h0m39-21.2h0m-99.4 53.7h0m51-27.4h0m-100.5 54.8h0m5.3-2.9h0m120.4-65.9h0m-114.4 62.6h0m112.3-61.5h0m4.1-2.8h0m-124 68.8h0m-39.3 21.5h0m151.8-84.2h0m-32.5 18.8h0m45.1-24.9h0m-21.2 11.9h0m-90.8 49.5h0m79.1-43.4h0m-82.9 45.6h0m120.2-66.2h0m-32.9 18.2h0m-58.3 32.3h0m102.4-56.1h0m-168.9 92.6h0m79.9-44.3h0m-6.6 3.7h0m-85.3 47.1h0m206.4-108.1h0m-54 24.5h0m-151.2 82.8h0m180.1-98.5h0m-4.9 2.5h0m-64 35.1h0m11.9-6.7h0m-67.4 36.8h0m122.8-66.8h0m-59.9 32.6h0m77.1-40.7h0m-61.1 32h0m-25.1 13.5h0m-77.9 43.1h0m-35.5 19.2h0m128.1-70.7h0m-89.4 49.6h0m52.7-28.8h0m-36.3 20h0m64.2-35.5h0m-33 18.1h0m-25.7 14.3h0m39.1-21.6h0m51.7-28.2h0m-33.3 17.8h0m66.3-36.6h0m-69.9 39.1h0m61.4-34.3h0m-120.1 66.2h0m-18.5 10.5h0m67.3-37h0m7.7-4.5h0m-57.3 31.6h0m40.8-22.5h0m-79 43.5h0m18.5-10.6h0m-2.7 2.1h0m79.4-44.1h0m41.5-22.5h0m19.1-10.4h0m-169.9 93h0m194.9-105.2h0m-113.2 60.3h0m68.6-37.2h0m-47.1 25.2h0m65.7-35.3h0m34.7-15.6h0m-129.8 67.3h0m92.1-50.2h0m-9.1 5h0m-14.5 7.9h0m51.9-27.3h0m-62.9 31.7h0m-65.7 37.4h0m-68.1 37.6h0m205.3-109.3h0m-56.7 27.9h0m-3.7 2h0m13.8-7.8h0m36.8-18.7h0m-160.8 85.9h0m89-48.1h0m-88.2 48.8h0m148.5-81.5h0m-129.1 70.9h0m46.2-25.7h0m-76.4 41.4h0m99-54h0m-85.3 47.3h0m108.3-59.4h0m-61.6 33.6h0m-58 32h0m58.7-32.2h0m86.2-47.2h0m-125 68.2h0m122.7-66.9h0m5.5-3.1h0m-123.1 67.5h0m12.9-7h0m26.9-14.9h0m52-28.5h0m-87.4 47.9h0m-22.9 12.4h0m15.6-8.3h0m120.9-66.6h0m-87.2 47.7h0m10.4-5.9h0m-27.2 15.3h0m-52.1 28.7h0m-13.8 6.2h0m151-82.3h0m-22.6 13.3h0m41.8-23.1h0m-12.8 7.3h0m-155.7 85.2h0m125.6-68.8h0m-86.1 46.4h0m-27 15h0m129.8-70.5h0m59.2-29.4h0m-163.4 86.4h0m67.1-36.6h0m-61.8 33.9h0m73.6-40.4h0m-117.9 63.8h0m121.2-65.6h0m-59.1 32.1h0m77.4-42.6h0m45-24h0m-10.8 5.6h0m-124.1 67.8h0"/><path stroke="#fc6c39" d="m140.5 149h0m32.3-18.4h0m47.1-25h0m-22.2 12.1h0m122.6-64h0m-8.4 2.3h0m-6.2 2.2h0m-163.7 89.7h0m62.3-34.6h0m22.8-12.2h0m103.9-47.4h0m-133.3 64h0m128.7-65.9h0m-162.9 84.6h0m71-39h0m88.5-44.1h0m-204.9 107.7h0m17.1-9.1h0m14.4-7.7h0m147.9-81.2h0m-175 96h0m106-59.1h0m-18.3 10.6h0m54.1-29.5h0m-56.9 31.2h0m94.9-52.1h0m-125.5 69.1h0m-52.6 28.9h0m115.5-63.4h0m-22.5 12.3h0m-11.3 6h0m107.6-57.5h0m-139.2 75.1h0m-40.6 22.2h0m135-74.6h0m51.4-24.7h0m-52 25.6h0m-75.9 41.1h0m80.7-43.7h0m-19.3 10.5h0m14-7.5h0m18.3-10.5h0m-84.3 46.4h0m-39.8 22.1h0m-20.8 11.3h0m109-59.8h0m-73.7 40.5h0m-38.8 21.2h0m-6.5 3.1h0m155.8-85.4h0m-86.1 47.8h0m114.3-61h0m-39.3 19.3h0m-85.3 47.4h0m96.5-53.1h0m-69.5 38h0m-21 11.4h0m-62.5 34.6h0m111-60.8h0m.4-.6h0m-124.7 68.8h0m199.5-107.2h0m-135.7 72.2h0m133.7-71h0m-120.7 63.7h0m79-43.2h0m-59.6 32.1h0m45.6-24.7h0m-94.8 52.2h0m101-55.8h0m-54.6 30.2h0m-11.9 6.8h0m-56.9 30.7h0m28.3-15.5h0m87.8-48.3h0m-38.8 21.7h0m92.4-49.1h0m-8 3.3h0m19.9-6.3h0m-139.5 71h0m-18.2 10.4h0m157.8-80.9h0m-162.9 83.9h0m127.8-70.3h0m14.1-7.1h0m-74.6 40.5h0m-76.7 42.1h0m143.7-78.8h0m-18.4 10.1h0m-136.8 74.6h0m43.3-23.4h0m130.8-69.6h0m-141.5 75.5h0m-36.1 19.9h0m132.4-72.7h0m-59.8 32.3h0m-54.8 30.6h0m157.4-84.7h0m-187.2 101.1h0m121.6-66.9h0m-65.2 35.8h0m89.7-49.1h0m5.2-2.8h0m-10.9 6h0m12.1-7.1h0m-138.3 76.2h0m168-91.2h0m-179 96.7h0m93.4-51.2h0m46.1-24.7h0m-45.4 24.7h0m-105 57.8h0m117.3-64.4h0m70-37.8h0m-116.1 63h0m86.2-47.1h0m-33.7 18.5h0m-63 34.4h0m21.8-11.8h0m-28.9 15.3h0m141-75.2h0m-108.2 57.2h0m53.2-28.7h0m-110 60.4h0m74.5-41.4h0m6.3-3.2h0m91.5-46.4h0m-109.5 56.6h0m112.2-57.2h0m-16.1 4.9h0m-88.2 47.9h0m-39.3 21.7h0m91.3-50.2h0m34.8-18.8h0m-128.6 70.1h0m34.3-19h0m-14.8 8.6h0m-45 24.6h0m97.8-53.7h0m34.9-19.3h0m-22.7 12.5h0m-26 14.1h0m83.8-42.8h0m-52 25.7h0m-34 18.7h0m-76.5 41.4h0m-33 18.6h0m190.7-103.3h0m-162.8 87.5h0m-26.6 15.1h0m135-74.5h0m-20.4 11.6h0m5.6-3.1h0m12.7-7h0m-52.5 28.5h0m44.1-23.9h0m-61.7 33.9h0m19.9-11h0m92.7-50.9h0m-4 2.1h0m-58.1 31.7h0m-60.8 33.6h0m-31.5 17.2h0m152.9-83.5h0m-62.7 34.3h0m35.8-20.1h0m-57.2 31.8h0m-12.4 6.9h0m-76.4 41.5h0m58.3-31.9h0m108.1-59.1h0m-83.5 45.6h0m-39.4 22h0m-11.9 6.2h0m21.1-11.4h0m85.9-47.2h0m-77.9 41.3h0m-59.9 34h0m149-81.5h0m-62.4 34.3h0m-8.3 3.7h0m94.9-50.8h0m17-7.1h0m-22.6 9.7h0m-30.1 16.7h0m17.9-10.2h0m33.3-15.6h0m-18.2 7.8h0m-89.3 48.9h0m48.8-26.7h0m-8.2 4.1h0m-9.9 5.8h0m50.7-28h0m-41.3 22.8h0m53.8-29.4h0m-170.9 93.7h0m151.3-83h0m23.3-12.4h0m-89.2 48.5h0m-57.9 31.9h0m25.5-14.5h0"/><path stroke="#fd5f35" d="m161.6 138h0m13.7-7.4h0m103.5-56.9h0m-129.6 70.3h0m112.6-60.9h0m-105.9 57.6h0m115.5-63.3h0m-27.4 15.4h0m2.7-1.4h0m-6.5 3.4h0m-11.5 6.3h0m2.5-1.3h0m-60.2 32.7h0m151.3-79.2h0m-198.4 105.1h0m166.3-91.5h0m-162.8 90h0m48.4-26.7h0m-51.5 28.3h0m107.3-58.9h0m-98.1 53.7h0m149.8-81.9h0m-34 18.4h0m-106.4 58.4h0m107.1-58.8h0m-12 6.3h0m-59.8 32h0m7.9-3.2h0m129.9-69.2h0m-180.4 96.6h0m50.6-27.7h0m36.9-19.9h0m-78 42.5h0m-10 6h0m-3.8 1.8h0m-12.7 7.2h0m92.7-51.3h0m-88.9 49.1h0m20.3-11.1h0m48.6-26.6h0m91.9-50.5h0m-66.3 36.1h0m88.9-48.4h0m-60.6 32.9h0m70.4-36.7h0m-96.9 51.3h0m-53.5 29.4h0m-29.7 16.3h0m132.6-72.7h0m-28.4 15.7h0m-61.7 33.7h0m3-1.8h0m-16.8 9.2h0m16.3-8.6h0m71.9-39.4h0m-90.6 49.1h0m1.9-.6h0m130.5-71.7h0m1.1-.6h0m-114 62.1h0m13.9-7h0m84.1-46.2h0m-90.8 49.5h0m101-54.9h0m-111 59.8h0m61.9-34.2h0m-58.8 33.2h0m121.4-66.1h0m-99.9 54.6h0m-56.1 30.7h0m146.1-80.6h0m.9 .1h0m-59.2 32.3h0m79.8-42.6h0m-188.7 102.5h0m174.2-95.7h0m-179.1 98.3h0m35.5-19.7h0m77.7-42.7h0m33.2-18h0m27-14.6h0m-168.3 92.2h0m160.1-88.1h0m-121 66.4h0m-17.9 10.2h0m136.3-74.7h0m-36.8 20h0m-63.7 34.9h0m71.5-39.3h0m-80.2 44.4h0m90.9-50.1h0m-55.7 30.5h0m43.9-24.3h0m-86.5 47.8h0m128-70.2h0m-57.5 31.5h0m59.6-32.8h0m-6.7 3.2h0m-10.5 6h0m-156 86h0m8.7-4.8h0m97-53.6h0m16-8.9h0m-107.2 59.5h0m82.8-45.7h0m22.3-12.6h0m-35.8 19.3h0m108.9-57.3h0m-101.3 53.9h0m-69.8 38.4h0m164.9-90h0m-60.8 32.4h0m2.8-1.2h0m-114.1 62.8h0m53.7-29.5h0m43.3-23.9h0m-106.8 58.4h0m132.7-72.6h0m-69.3 38.2h0m39.1-21.7h0m-74.2 40.8h0m91.6-50.1h0m-89.7 49h0m109.9-60.5h0m-31.3 17.3h0m54.9-29.9h0m-103.3 56.6h0m-30.6 16.9h0m33.3-18.3h0m-19.5 10.6h0m153.8-78.9h0m-4.9 .6h0m-142.1 74.7h0m80.3-44.1h0m-130.9 71.3h0m30.8-16.2h0m4.3-2.7h0m138.6-75.7h0m-67.9 37.1h0m-44.7 24.6h0m7.3-4.3h0m117.4-62.8h0m-135 72.1h0m57.9-31.7h0m-73.1 40.4h0m-1.3 1h0m57.4-32h0m13.9-9h0m38.7-19.6h0m16.1-8.6h0m-100.1 54.7h0m124.4-66.8h0m-89.3 47.4h0m-63.3 35.2h0"/><path stroke="#fe5531" d="m284.4 71h0m7-3.9h0m-57.3 31.4h0m-67.9 37.3h0m-41.7 23h0m28.1-15.9h0m15.9-9.7h0m63.3-33.3h0m-95.1 52.2h0m-7.1 3.9h0m46.6-25.5h0m74-41h0m-62.5 34.7h0m26.8-14.7h0m-22.8 12.6h0m-29.5 16.2h0m-19.4 10.5h0m-4.4 2.3h0m187.1-97.4h0m-116.2 58.4h0m113.1-58.1h0m-5.6 .6h0m-70.3 36.7h0m52.5-28.3h0m-50.6 27.8h0m-98.7 54.1h0m117.6-64.5h0m-17.6 9.5h0m62-33.3h0m-159.4 87.1h0m119.7-65.8h0m-59.2 32.1h0m-90.9 50h0m50.8-28.1h0m31.8-16.8h0m92.9-51.1h0m-65.4 35.8h0m-15.7 8.3h0m-13.4 7.6h0m81-44.3h0m28.5-14.5h0m12.7-3.1h0m-122.2 62.2h0m1.6-1h0m66.6-37.4h0m-34.9 19h0m-117.2 65.3h0m100.9-55.5h0m-43.2 24h0m-51.7 28.3h0m195.9-104.7h0m-170.1 90.6h0m112.7-61.9h0m-57.2 31.1h0m92.6-50.7h0m-128.4 70.7h0m112-61.5h0m47.8-18.9h0m-146.3 73h0m141.5-73h0m-87.9 43.6h0m-30.4 16.4h0m78.9-43.6h0m-143.8 79.2h0m63.5-34.7h0m55.1-30.3h0m9.2-5.2h0m14.3-7.6h0m-82 45h0m-54.2 29.2h0m147.3-80.1h0m-19.6 10.5h0m-74.8 41h0m20-11h0m-69.7 38.3h0m51.1-27.8h0m-76.9 42.2h0m8.4-4.5h0m145.1-80.7h0m-149.7 82.9h0m21.3-11.5h0m148.4-82.3h0m-169.8 94h0m177.1-96.9h0m-141.6 77.4h0m122.2-67h0m22.9-11.9h0m-40.5 21.5h0m8.9-4.8h0m-48.5 26.3h0m49.4-26.9h0m5.3-2.8h0m-39.4 21.4h0m-58.2 31.9h0m114.1-62.2h0m-57.4 31.1h0m-44.6 24.6h0m33.9-18.7h0m-92.7 51.1h0m41.2-22.5h0m92-50.6h0m-96 52.7h0m132.3-72.2h0m-183.9 100.6h0m114.1-62.7h0m-36.4 19.3h0m58.6-31.7h0m48.9-25.9h0m-21.6 11.1h0m-3.9 2.2h0m-153.4 83.3h0m180.6-97.9h0m-172.7 94h0m-18.8 10.9h0m133-73.3h0m68.2-33.6h0m-54.5 26.2h0m-122.4 67.3h0m-20.1 11h0m184.8-100.7h0m-1.2 .6h0m-152.8 83.3h0"/><path stroke="#fe4a2e" d="m248.1 91.2h0m-107.1 58.9h0m60.3-33h0m12-6.7h0m-94 51.6h0m30-16.5h0m127-69.6h0m-26.2 14.3h0m11.3-6.4h0m-30.8 16.9h0m72.4-39.3h0m-95 51.9h0m46.3-25.4h0m-62.9 34.2h0m106-57.8h0m-54.5 29.6h0m32.2-18h0m-16.3 9.7h0m42.8-23.8h0m-4.9 2.9h0m-154.7 85.1h0m139-76.6h0m-137.4 75.6h0m89.7-49.2h0m-24.4 13.2h0m9.5-5.2h0m-90 49.3h0m131.7-72h0m-108.9 59.6h0m26.1-14.2h0m50.1-27.9h0m-72.4 39.9h0m85.3-46.5h0m-71.3 39.1h0m-8.1 4.2h0m-14.1 8h0m-19 9.9h0m93.1-50.7h0m-36 19.4h0m66.6-36.2h0m81.2-34.9h0m-208.4 104.4h0m178.3-97.5h0m-144.6 79.4h0m9.9-5.4h0m-36.4 20.1h0m89.7-49.6h0m17.6-9.4h0m86.8-42.7h0m-103.3 51.8h0m-57.6 31.2h0m-33.5 18.7h0m156.3-86.1h0m-104.6 57.5h0m99.6-54.6h0m-28.4 15.2h0m-100.3 55.6h0m104.4-57.3h0m-49.9 27h0m108.8-57.5h0m-117.8 62.8h0m-48 26.2h0m111.2-60.8h0m-101.2 55.7h0m2-1.2h0m80.4-44.2h0m-115.2 63.2h0m17.3-9.4h0m107.2-59h0m75.3-34.8h0m-30.5 10.4h0m9.4-5h0m-81.6 44.5h0m44.9-25h0m-120.2 66.5h0m174.3-91.4h0m-179.8 94.5h0m76-41.9h0m88.5-47.9h0m-182.9 99.9h0m87.7-49.1h0m25.9-13.4h0m-8.3 4.5h0m48.6-26.8h0m-50.2 27.7h0m-69.9 38.6h0m148.6-81.1h0m-29.9 15.5h0m-126.2 69.5h0m68.2-38.3h0m-57.6 32.5h0m130.1-71.4h0m-143.5 78.3h0m102.3-55.6h0m-1.1 .5h0m-81.6 45h0m83.4-46h0m-73.7 40.5h0m-51.9 28.2h0m186.1-100.7h0m-29.9 15.3h0m-95.1 52h0m-65.4 35.7h0m9.1-4.8h0m132.3-72.4h0m-130.5 71.6h0m91.9-50.6h0m-17.7 9.5h0m-55.9 31.1h0m139.7-76.7h0m-28.6 15.5h0m30.1-16.3h0m-90.6 49.8h0m51.4-28.5h0m68.6-33.8h0m-87.6 44.4h0m33.1-19.4h0m42.5-21.7h0m.8 .2h0m-19.1 9.6h0m-13.5 7.3h0m46.3-20.7h0m-130.5 67h0m32.9-18.4h0m18.9-10.3h0m-103.7 56.7h0m29.9-16h0m118.6-65.7h0m-96.6 53.6h0m-38.6 21.1h0m-27.6 13.5h0m101.6-53.9h0m44.2-24.8h0m-107.2 59.4h0m-27.8 15.2h0m24.4-13.6h0m-19.5 10.8h0m113.5-62.3h0m27-14.7h0m-23.7 12.9h0m-14.7 7.9h0m76.6-38.1h0m-138.2 71.9h0m114-62.4h0m-115.9 63.8h0m59.7-34.3h0m-80.9 45.9h0m-26.6 14.5h0m86.6-47.7h0"/><path stroke="#fe402a" d="m149.4 145.7h0m21.2-11.4h0m-12.6 6.6h0m42.8-23.4h0m29.1-15.7h0m4-2.4h0m30-16.3h0m-61.2 33.4h0m38.7-22.3h0m8.8-3.7h0m-97.2 53.6h0m150.4-82.9h0m-46.3 25.3h0m-80 43.7h0m111.8-61.1h0m-82.7 45.2h0m-14.2 8.3h0m79.6-44.1h0m-150.2 82.8h0m10.5-6h0m120.4-65.8h0m-110.6 60.2h0m-22.2 12.6h0m141.6-79.6h0m54.8-26.8h0m-44.8 22.9h0m-117.5 64.9h0m36.3-19.9h0m-10.5 5.9h0m-35.7 19.5h0m-8.9 4.3h0m14-7.3h0m-.8 .1h0m-27.7 15.7h0m17.3-9.5h0m53.1-29.4h0m76.8-42.1h0m-67.5 37.3h0m-11.5 6.1h0m-65 36h0m73-40.9h0m12.6-6.2h0m-75.5 41.4h0m150.3-82.5h0m-32.6 17.9h0m-93.1 51.2h0m90.2-49.6h0m-67.6 37.2h0m-34.9 19.1h0m88.8-48.8h0m-58 31.6h0m80.8-44.2h0m-52.9 29.1h0m-41.1 22.2h0m11-6.1h0m112.1-61.2h0m-87.1 47.9h0m-36.3 19.7h0m141.1-77.3h0m-92.5 50.7h0m3.1-2.7h0m79.6-42.5h0m-44.7 24.5h0m32.8-17.9h0m20.9-11.7h0m-46.4 25h0m45.8-24.3h0m-105.8 57.8h0m-43.6 24.1h0m50.8-28.6h0m18.6-9.6h0m13.1-7.5h0m19.1-10.1h0m14.9-8.2h0m23.9-13h0m-63.5 34.5h0m17.7-9.4h0m-70.2 38.4h0m109.9-60.8h0m-147.4 81.5h0m124.5-68.8h0m-74.3 41.3h0m-70.1 38.6h0m66.5-36.6h0m130.9-69.9h0m-159.4 84.1h0m33.5-17.2h0m84.9-46.5h0m-132.7 72.7h0m46.5-25.6h0m48.9-26.5h0m-108.3 59.2h0m21.7-12.5h0m-4.3 1.9h0m55-28.9h0m-59.5 32h0m28.2-14.7h0m157.4-79.6h0m-75.5 32.7h0m-20.4 12.2h0m-32.3 18.3h0m94.7-51.7h0m-53.1 29.2h0m85-41.1h0m3.4 .7h0m-136.5 66.7h0m62.2-34.4h0m62.9-31.6h0m-94.3 48.9h0m-100 55.3h0m165.8-91.3h0m-39.2 21.5h0m46.7-25.4h0m-77.9 42.5h0m-56.7 31.4h0m82.8-45.7h0m-97.5 53.8h0m123.9-68.3h0m-46.3 25.6h0m-33.6 18.5h0m-41.1 22.5h0m148.2-81.2h0m-128.6 70h0m63.7-34.8h0m-.7 .7h0m-15.8 8.7h0m-49.1 27h0m-50.1 27.3h0m183.3-101.1h0m12.5-5.1h0m-66.6 35.1h0m-82 45.3h0m70-38.6h0m-82.3 45.3h0m11.2-5.9h0m101.4-55.8h0m29.4-16.4h0m-132.3 72.9h0m62.6-35.1h0m37.9-20.1h0m-93 50.7h0m145.7-78.1h0m-167.9 89.6h0"/><path stroke="#ff3626" d="m184.8 126.3h0m14.3-7.3h0m58.2-31.9h0m57.7-30.3h0m-16.5 7.8h0m12.6-6.6h0m-180.9 99h0m105-57.9h0m65.7-36.5h0m-79 43.9h0m10-5.5h0m-43.3 23.8h0m-13.1 7.2h0m124.9-68.4h0m-177.8 97.4h0m185.8-101.6h0m-69.8 37.9h0m43.1-24.8h0m-32.1 18.6h0m35.7-19.3h0m-49.1 26.5h0m88.2-44.1h0m-155 81.2h0m85.4-47.2h0m-40.6 22.5h0m-2.7 1.3h0m-36.3 19.8h0m29.8-15.8h0m8-4.7h0m41.2-22.4h0m-68.3 37.6h0m105.8-58.3h0m7.1-3.8h0m-120.3 65h0m-23 13.8h0m145.3-79.9h0m-129.9 71.3h0m46-25.2h0m37.9-20.8h0m-30.2 16.5h0m44.8-25.2h0m-100.1 55.6h0m99.6-54.7h0m-5.6 2.7h0m64.2-29.5h0m-183.9 95.2h0m171.9-93h0m-174.5 94.8h0m176.3-94.9h0m-7.5 2.8h0m1-.9h0m-130.7 71.4h0m47.6-26h0m-75.9 41.6h0m109.1-60.6h0m30.1-16h0m-76.7 42.3h0m18.8-10.3h0m-46.6 25.8h0m3-2.1h0m73.8-41.1h0m-78.5 44h0m-45.5 24.8h0m160.1-87.7h0m-26.9 14.8h0m-88.5 48.6h0m124.7-68.4h0m-181.6 99.5h0m18.2-10.1h0m138-75.5h0m24.1-13.4h0m-9.1 5.1h0m-2.5 1.5h0m-85.6 47h0m-32 16.8h0m-38.4 21.8h0m189.5-97.5h0m-25.4 7.4h0m-149.9 82.3h0m122.7-67.3h0m49.1-22.3h0m-59.6 27.8h0m-129.1 70.8h0m113.2-61.9h0m72.3-36.3h0m-137.1 72h0m130.8-70.3h0m4.9-1.3h0m-139.6 73.8h0m97-53.9h0m-91.1 50.2h0m32.3-17.4h0m-25.9 14.1h0m-33.5 18.1h0m-4.6 3.1h0m120.3-66.2h0m-51.6 27.9h0m-13.3 7.8h0m45.7-25.3h0m-82.1 45.4h0m-46.9 25.6h0m171.3-94.7h0m-31.6 17.7h0m-132.4 73.1h0m140.7-77.3h0m-41.9 23h0m-8.9 4.9h0m103.5-50.7h0m-170.4 87.4h0m146.6-80.5h0m-165.7 91.2h0m161.7-88.9h0m-85.6 46.7h0m-19.5 10.6h0m28.3-15.7h0m70.4-38.3h0m-62.9 34.6h0m17.9-9.7h0m-59.9 32.5h0m116.4-63.4h0m-129.3 70.8h0m118.8-65.1h0m-61.5 33.4h0m5.6-2.8h0m51.6-28.5h0m28.6-13.2h0m-71.9 37.2h0m-90.5 49.7h0m127.4-70.5h0m-84.9 47.1h0m62.8-34.6h0m23.7-13.1h0m-4.9 3h0m-158.7 87h0m70.2-38.4h0m71.7-40.5h0m-143 79.6h0m77.4-42.5h0"/><path stroke="#ff2c23" d="m228.9 102.8h0m-46.8 26.1h0m-6.6 3.1h0m5-3.1h0m125.6-68.9h0m-62 34.8h0m54.7-30.2h0m-111.4 61.1h0m111.3-60.8h0m-47.2 25.2h0m51.2-27.4h0m-136.9 75.1h0m14.4-8.2h0m122-66.6h0m-69 37.8h0m-77.9 42.6h0m-29.7 16.2h0m200.7-105h0m-165.2 85.6h0m-11.6 6.7h0m-17.5 9.4h0m59.4-32.6h0m-54.9 30.3h0m122.1-67.1h0m60.4-31.1h0m-159.4 85.4h0m-10.6 5.9h0m139.6-76.8h0m24.5-12.8h0m-48.4 26h0m-130 71.5h0m136.4-75.7h0m28.2-14.8h0m-175.2 95.7h0m3.1-1h0m18.9-10.4h0m176-93.7h0m2.1-.3h0m-154.1 80.4h0m-48.2 26.6h0m81-44.2h0m30.4-17.1h0m-79.3 43.6h0m170.6-89.4h0m-168.7 87.6h0m120.7-65.6h0m-86.4 47.8h0m-60.9 33.1h0m77-42.5h0m88.2-48.6h0m-151.3 83.9h0m-6.9 3.1h0m-8.5 5.4h0m139.3-76.7h0m-47.7 26.3h0m88.1-48.2h0m-160.9 88.3h0m123.3-67.8h0m-5.4 2.8h0m-141.3 77.6h0m180.7-98.9h0m-120.3 64.9h0m110.4-60.5h0m-67.2 36.3h0m8.7-4.3h0m-70.1 39.4h0m98.8-55.1h0m-68.2 38.3h0m123.6-65.5h0m-149.6 79.7h0m21.2-11.5h0m10.4-5.7h0m30.9-17.2h0m53.1-29.1h0m-87.5 48.2h0m42.5-23.5h0m-114.6 62.2h0m5.1-1.7h0m135.3-74.5h0m-122 67.2h0m-7.7 3.9h0m98.9-54.3h0m-38.8 21.4h0m89.5-49.1h0m-153.9 84.4h0m189.5-101h0m-195.5 104.1h0m36.1-19.7h0m130.8-71.9h0m-135.2 74.5h0m-14.7 8.3h0m-18.2 9.4h0m76.9-42.6h0m65.9-35.4h0m-102.8 56.2h0m16.6-8.9h0m27.8-15.3h0m114.2-59.3h0m-27.1 11.5h0m-165.9 90.8h0m82.2-44.9h0m77-42.6h0m-151.1 83.5h0m6.4-3.7h0m30.4-16.6h0m143.9-76.6h0m-15.3 6.2h0m-22.2 11.9h0m35.7-17.7h0m-23 10.3h0m-14 7.9h0m-12.1 6.6h0m-9.1 4.6h0m-82.3 45.7h0m64.3-35h0m-25.2 13.8h0m-74.1 40.8h0m139.2-76.7h0m12.3-6.8h0m31.2-12.7h0m-143.7 74.2h0m129.2-69.9h0m-.3-.6h0m-116.9 64.4h0m0-.6h0m47.6-25.5h0m21.6-11.8h0m-35.7 19.5h0m-50.6 27.9h0m-31.7 17.4h0m101.4-56h0"/><path stroke="#ff2920" d="m331.2 54.9h0m-134.9 66.6h0m84.1-46.9h0m-6.1 3.7h0m-77.3 42.8h0m95.8-52.6h0m-4.4 2.4h0m45.7-15.3h0m-33.1 8.1h0m-127.2 69.8h0m-47.9 26.7h0m41.8-23h0m2.7-1.7h0m103.8-56.9h0m-59.7 32.9h0m25.7-14.1h0m-65.2 35.3h0m149.7-77.8h0m-121.6 62.9h0m-58 30.6h0m-20.8 12.4h0m74.3-40.7h0m65.3-35.8h0m-12.2 6.8h0m-87.5 48.1h0m1.5-1h0m-39.4 21.7h0m141.9-78.2h0m-104 57.4h0m-6.4 3.3h0m42.1-23h0m-6.3 3.5h0m56.4-31.6h0m-19.4 11h0m-29.2 16.1h0m59.6-32.4h0m-106.7 58.3h0m9.8-5h0m170.1-84h0m-100.6 45.8h0m-106.7 58.7h0m199-105h0m-35 14.9h0m-75.5 41.3h0m107.2-55.5h0m-147.8 77.6h0m96.7-52.9h0m-64.3 34.5h0m43.4-23.2h0m-79.9 44.3h0m-24.2 13.2h0m185.3-93.9h0m-175.1 88.2h0m-13.2 7.1h0m184.9-95.8h0m-105.1 52.3h0"/><path stroke="#ff251e" d="m165.9 138.2h0m3.8-2.2h0m29.1-16h0m-17.9 9.3h0m-5.1 3.7h0m13.2-7.5h0m-14.5 8.1h0m-41.6 23h0m161.1-88.5h0m27.7-12.4h0m-100.9 51.2h0m2.1-.2h0m-17.1 9.8h0m14.5-8.3h0m47.7-25.9h0m59.3-27.4h0m-20.3 6.3h0m-126.7 68.7h0m130.1-70.3h0m-62.7 33.8h0m-87 47.3h0m53.3-28.8h0m-66.8 36.6h0m75.6-41.2h0m-16.6 9h0m96.1-52.5h0m-87.4 47.8h0m111.7-56.8h0m-27 10.2h0m-63.1 34.7h0m-19.6 10.6h0m-54.2 29.3h0m70.2-37.9h0m54.8-30.2h0m-124.5 68.5h0m68.4-37.7h0m43.8-24h0m-71.9 39.6h0m12.6-7.1h0m35.9-19.7h0m82.6-35.3h0m-132.6 62.9h0m54.7-30h0m47.5-26.5h0m-32.2 18h0m-83.8 45.9h0m-21.6 11.9h0m91.3-50h0m-120.3 65.9h0m62-34.3h0m-30 16.5h0m106-58.4h0m-124.1 68.3h0m75.6-41.5h0m-42.5 23.1h0m106.3-57.8h0m30-13.9h0m-93.3 48.6h0m72.7-39.6h0m-129.2 70.8h0m162.8-79.8h0m-19 2.1h0m-112.1 60.3h0m100-55h0m-70.2 38.5h0m-44.3 24.3h0m17.4-10.4h0m52.4-28.5h0m-124.8 69.1h0m-4.2 2.5h0m86.8-47.9h0m-16.9 9.3h0m30.7-16.7h0m-56.6 31.2h0m-6.2 3h0m-43.9 24.4h0m12.1-7.2h0"/><path stroke="#ff211c" d="m299.6 65.1h0m-113.3 62.4h0m130.1-70h0m1.1-.3h0m-183.2 98.8h0m81.6-45.3h0m69.8-37.9h0m42.4-17.6h0m-187.4 97.4h0m120.7-66.5h0m56.4-29.3h0m-24.7 12h0m-40.4 22.2h0m10.8-5.9h0m-43.2 23.6h0m66.6-36.5h0m-160.9 88.2h0m181.4-99.3h0m-65.1 35.6h0m29.1-15.9h0m-73.3 39.9h0m128.3-65.5h0m-45.2 20.2h0m-48.3 26.1h0m-88.2 48.5h0m79.5-43.3h0m-79.1 43.5h0m107.3-59.1h0m62.3-32.9h0m-35.6 17.9h0m-79 43.9h0m-38.3 20.9h0m-22.9 12.7h0m134.5-73.9h0m-25.4 13.8h0m-40.7 22.3h0m-79.3 43.7h0m3-1.9h0m37.8-21h0m115.1-63.5h0m-41.3 23.6h0m-85.8 47.1h0m-7.5 3.8h0m44.9-24.4h0m66.5-36.7h0m31-16.9h0m-23.2 12.5h0m-62.3 34.5h0m-43.1 23.5h0m148.8-80.7h0m-7.5 3.5h0m-118.3 64.7h0m-7.9 4.4h0m-29.9 16.1h0m72.2-39.3h0m24.1-13.4h0m-94.5 51.7h0m162.9-88.3h0m-143.2 77.7h0m78.4-43h0m71-36.9h0m-5.8 2.3h0m-35.5 18.4h0m22.6-12.3h0m-66.9 36.7h0m12.4-6.9h0m39.8-21.7h0m36.1-17h0m-106.6 55.6h0m-59.1 32.3h0m70.5-40.3h0m25.2-12.2h0"/><path stroke="#ff1d1a" d="m291.8 69.8h0m-28.8 15.7h0m40.7-22h0m-174.8 95.1h0m2.1-.6h0m112.5-61.6h0m-73.7 40.4h0m29.6-16.2h0m134.8-64.5h0m-156.5 76.2h0m7.3-4.1h0m111.6-61.3h0m-80.1 44.2h0m42-23.4h0m-78.8 43.4h0m-55.8 30.8h0m42.4-23.3h0m19.9-10.8h0m103.8-57h0m-65.3 35.4h0m30-16h0m60.2-31.8h0m-18.2 9h0m-74.6 40.4h0m16.2-11h0m68.6-34.9h0m-19.7 10.6h0m41.1-17.4h0m-40.8 17h0m-112.8 62.1h0m-49.6 27h0m71.8-39.2h0m-70.4 38.6h0m33.9-19.2h0m37.9-20.4h0m-31.6 16.9h0m-34.9 19.9h0m166.7-91.9h0m-7.1 4.1h0m38.4-14.6h0m-7.5 .8h0m-4.1 1.2h0m-76.1 39.1h0m-106.7 58h0m-1.6 1.9h0m72.3-39.7h0m-3.3 2h0m-24.5 13.6h0m149.6-76.9h0m-116.2 58.5h0m22.4-13h0m35.3-18.9h0m5.3-2.6h0m-88.2 47.9h0m26.3-14h0m-43.8 24h0m-41.3 22.7h0m-2 1.1h0m125.2-68.7h0m70.6-35.8h0m-9.5 3.3h0m-56.8 30.3h0m-27.3 14.4h0m-9.4 5.3h0m117.5-53.3h0m-38 10.2h0m-107.8 58.6h0m14.4-8.3h0m55.8-29.7h0m-57 31.2h0m85.1-46.6h0m-159.1 87h0m65.2-35.6h0m71.8-39.3h0m48.8-25.8h0m-5.4 2.4h0m-27.1 14.4h0m-103.8 56.9h0m73.6-40.2h0m-28.1 15.1h0"/><path stroke="#ff1a17" d="m171.7 135.8h0m8.7-4.7h0m138-73.7h0m-112 59.5h0m-27.7 15h0m74.8-40.7h0m-37.6 20.4h0m-89.4 48.7h0m116.7-64h0m-112.2 61.8h0m138.8-75.8h0m37.3-20.3h0m-25 13.3h0m-93.4 51.4h0m-29.3 16.1h0m66.7-36.8h0m-4.7 2.2h0m24-12.7h0m-61.3 33.3h0m-4.7 2.8h0m33-17.8h0m-15 8.1h0m45.5-25.1h0m66.9-35.9h0m-27.8 14.7h0m-20.9 11.1h0m59.5-29.9h0m.2-.1h0m-1.9 .2h0m-56.9 29.7h0m36.4-19.7h0m-171.6 93.4h0m125.6-68.3h0m46.5-25.5h0m-37.2 20.4h0m-55.8 30.4h0m116.5-60.8h0m-141.1 74.3h0m69.6-38h0m-51.4 28h0m25.9-15.1h0m17.4-8.8h0m-5.3 3.2h0m43.7-23.9h0m-94.2 51.6h0m29-16.6h0m48.8-26.7h0m-92.1 50.9h0m-36.1 18.7h0m38.8-21.2h0m-14.5 8.9h0m55.5-30.3h0m-53.4 29.4h0m.8-.6h0m-3.5 2h0m-.6 .4h0m5.8-3.4h0m27.9-15.1h0m72.6-40.3h0m-128.3 70.7h0m194.5-98.8h0m-88.8 40.6h0m-31.1 17.3h0m113.5-58.4h0m-97 49.6h0m90.2-47.4h0m-25.3 12.1h0m-23.8 12.1h0m-55.5 31.1h0m70.3-38.5h0m-124.8 68.3h0m151.4-82.3h0m-120.7 65.4h0m136.1-70h0m-150.9 78.1h0m142.6-76h0m-68.7 35.6h0m-27 14.9h0"/><path stroke="#ff1615" d="m320.3 57.2h0m-95.1 49.4h0m46.4-25.1h0m-102.3 55.4h0m8.7-4.1h0m-20 10.8h0m41.8-22.8h0m-10.3 5.2h0m144.8-69.6h0m-199.1 99.7h0m184.8-98.8h0m-182.5 97.1h0m16.6-8.9h0m66.1-36.1h0m98.1-52.2h0m-13.9 6.8h0m-120.4 65.3h0m15-8h0m-50.1 27h0m-7.7 4.1h0m98-54.1h0m70.7-37.2h0m-153 82.6h0m119-64.5h0m-18.5 10.2h0m-52.8 28.8h0m21.7-11.8h0m-88.9 48.7h0m115.8-63.5h0m-45.9 25.2h0m2.3-1.3h0m58.9-32.1h0m-85.5 46.5h0m37.9-20.5h0m-93.7 51h0m146.6-80h0m-10.1 5.4h0m16.4-9.1h0m6.7-3.4h0m43-17.4h0m-2.1 0h0m-136.8 69.5h0m37.1-20h0m-68.7 37.6h0m159.6-85.4h0m-178.9 95.7h0m.2 .1h0m55.9-30.8h0m86.6-47.7h0m-138.3 76.3h0m14.5-7.9h0m21.6-11.9h0m68.2-37.2h0m-16 8.7h0m1.9-1.4h0m-108.2 59.3h0m78-42.7h0m89.1-48.2h0m-154.5 84.3h0m103.4-56.7h0m48.3-26.1h0m-46.9 25.3h0m-114.8 63h0m57.8-31.6h0m99.1-54.1h0m4.3-2.4h0m-164.3 89.7h0m.6-.5h0m143.4-78.1h0m44.6-23.4h0m-89.9 48.1h0m85.1-46.2h0m-165.9 90.5h0m116.9-63.9h0m33.3-18.7h0m-86.1 46.3h0m14.2-6.6h0m72.8-40.6h0m-154.5 85.1h0m150.2-81.8h0m14.2-8.1h0m-36.9 19.6h0m-84.8 46.7h0m90.2-49h0m-15.3 8.6h0m-82.4 44.9h0m100.7-55.3h0m35.4-18.3h0m-14.2 7.3h0m-26.9 14.1h0m-8.6 5h0m-64 35.1h0m106.3-57.8h0m-33.7 17.8h0m-117 64.1h0m59.1-32.1h0m44.3-24.2h0m-34.7 18.3h0m-66.3 36.3h0m167.2-87.9h0m-94.2 48.2h0m92.7-47.9h0m-159.3 84.6h0m101.1-55h0m-68 36.6h0m26.6-14.2h0m62.6-34.7h0m-68.7 38h0m-34.9 19.2h0m142.9-75.2h0m-57.9 28.8h0m-1.2 .6h0m24.1-13.2h0m.4-.3h0m43.5-15.7h0m-55.9 22.4h0m-137.7 75h0m162.6-88.2h0m-21.9 11h0m-68.6 38.3h0m102.8-55.4h0m-105 56.2h0m-61.3 33.4h0m120.9-65.5h0m51.4-26.5h0m-156.7 83.5h0m136.6-73.9h0m-173.7 94.5h0m183-99.5h0m-51 27.2h0m77.3-32h0m-37.1 10.6h0m18.6-9.2h0m-148.6 79.2h0m-30.4 16.2h0m128.8-69.2h0m28.3-15.3h0m-67.9 36.8h0m-100 54.5h0m139.4-76h0m4.4-2.4h0m-25 13.8h0m-99.1 54.1h0m76-41.5h0m-49.5 26.6h0m73.6-40.3h0m64.3-34.9h0m-26.1 14.7h0m-48.5 26.3h0m2-1.7h0m45.3-24.5h0m-87.7 48.2h0m-9.1 4.9h0m-22.4 12.2h0m42.6-23.2h0m-49.1 26.9h0m138.5-75.3h0m4.4-2.3h0m-73.6 38.1h0m-56.9 32.9h0m27.5-15h0m69-37.7h0m1.8-.9h0m1.1-.5h0m-24.2 12.9h0m39.1-21.3h0m-69.1 36.7h0m-23.5 13.9h0m83.2-46.1h0m45.6-22.2h0m-66.3 34.4h0m-61.5 33.3h0m22-12.4h0m-79.2 43.6h0m56.8-31.3h0m11.2-5.6h0m-13.3 6.9h0m11.7-6.1h0m103.1-55.9h0m-4.5 2.4h0m-148.8 80.9h0m-12.1 6.6h0m104.2-56.7h0m56.9-30.9h0m-47.3 25.1h0m-103.6 56.8h0m166.7-89.3h0m-54.3 27.9h0m-130.7 71.5h0m108.3-59h0m-27.2 14.5h0m31.2-16.9h0m-113.6 62.2h0m159.9-87.1h0m-23.1 12.5h0m-48.5 26.3h0m1.9-.9h0m48.4-26.3h0m30.4-16.5h0m11.6-5.8h0m-125.3 67.2h0m12.9-7.1h0m21.7-11.3h0m-62 33.6h0m5.7-2.9h0m-20.8 11.1h0m90.5-49h0m7.3-4.1h0m-57.4 31.3h0m42.2-23.3h0m-19 10.2h0m115.8-59.6h0m-20.7 8.4h0m-21.4 11.4h0m24.2-12.8h0m-172.3 93.6h0m178.8-96.6h0m-116.1 62.1h0m-56.2 30.8h0m101.4-55.4h0m14.9-7.9h0m38.9-21h0m-32.3 17.4h0m-128 69.4h0m28.3-14.9h0m62-33.7h0m-67.9 36.8h0m163.6-86.8h0m-138.7 73.2h0m46.1-25.5h0m69.2-37.1h0m-104.9 57h0m-21 11.3h0m84.3-45.6h0m-91.4 49.4h0m136.7-74.2h0m-44.8 24.3h0m76.1-34.2h0m-117.4 56.8h0m-26.8 14h0m3.6-1.3h0m29.8-16.3h0m52.6-28.7h0m-39.9 21.7h0m-40.7 22.2h0m78.5-42.6h0m-9.7 5.4h0m27.8-15.2h0m-132.1 71.7h0m-25.5 13.8h0m154.3-84.1h0m-42.6 23.5h0m-96.3 52.5h0m65.8-35.9h0m29.2-16.1h0m-118 64.3h0m204.6-105.7h0m-104.2 51.3h0m103.8-51.5h0m-148.4 75.1h0m-32.4 18.3h0m61.2-34.1h0m2.9-.9h0m21.8-11.9h0m-26.6 14.7h0m69.1-37.7h0m37.2-19.4h0m-20 10.2h0m-145.3 79h0m94.9-51.8h0m-55.9 30.5h0m142.5-71.7h0m-135.9 68.3h0m53.4-29.1h0m-44.5 24.1h0m-54.6 29.7h0m162.1-87.8h0m-65 34.8h0m60.2-32.3h0m-36 19.4h0m1.6-.8h0m-123.4 66.9h0m153.2-83.2h0m-95.1 50.9h0m-7.7 4.9h0m-38.6 20.8h0m80.1-44h0m-58.7 32.7h0m-5.8 3.2h0m124.6-68.9h0m1.9 .3h0m-67.8 36.4h0m-16.2 9h0m17.8-9.9h0m80.5-42.9h0m-141.1 76.2h0m-14.2 7.7h0m39.6-21.7h0m63.3-34.4h0m-97.9 53.2h0m-35.4 18.9h0m158.2-85.6h0m-7.3 4.1h0m44.1-20.8h0m-181.3 95.3h0m-8.1 4.5h0m109.9-60.2h0m-38.2 21h0m16.5-8.9h0m-58.3 31.4h0m-36.1 20.1h0m45.3-24.7h0m8.5-5.1h0m119.3-64.1h0m-128.4 69.4h0m33.6-18h0m47.1-26.4h0m-79.3 43.5h0m66.3-35.7h0m40.6-22.2h0m41.9-19.5h0m-20.2 8.2h0m-5.3 2.3h0m-16 9h0m-83.5 45.2h0m20-10.9h0m52-28.3h0m20.8-11.2h0m-41.2 22.5h0m-.4-.5h0m12.5-6.1h0m-102.6 55.7h0m157.2-83.8h0m-103.4 54.6h0m119.5-56.8h0m-187.8 94h0m99.3-54h0m-111.9 60.9h0m18.3-10.3h0m114.6-62.1h0m-140 75.7h0m137.6-74.7h0m-100.8 54.8h0m9.6-4.9h0m21.5-11.9h0m70.5-37.9h0m-21.5 11.6h0m-16.4 8.3h0m-10.7 6.3h0m6.1-3.1h0m-81.5 43.9h0m-9.4 5.5h0m17.8-10h0m34.9-18.8h0m21.8-11.7h0m-10.5 5.7h0m-61.5 32.7h0m37-19.8h0m-17.4 9.9h0m93.8-50.9h0m-28.4 15.3h0m-13 7.1h0m72.2-39.2h0m-12.5 6.9h0m-97.2 52.5h0m159.4-82.1h0m-190.7 99.2h0m21-11.5h0m-26.6 14.6h0m30.5-16.7h0m55.9-30.1h0m39-21.6h0m-32.4 18h0m-41.6 22.5h0m34.4-18.8h0m9.8-5.6h0m-50.3 27.8h0m130-70.6h0m-124.7 67.6h0m124.5-67.7h0m-150.5 81.5h0m83.3-44.8h0m-52.5 28.5h0m125.4-67.5h0m-33.7 17.7h0m22.9-12.6h0m-157.4 85h0m65.2-34.8h0m56.5-30.7h0m-85.1 46h0m-33.1 18.2h0m27.7-15.3h0m157.8-78.5h0m-68.9 30.2h0m-87.5 47.4h0m124.3-67.4h0m-105.2 57.5h0m120.8-64.6h0m-4.7 2.1h0m-61.8 33.1h0m-118.9 64.4h0m129.9-71.3h0m-96.8 52.4h0m48.6-25.5h0m-21.3 11.7h0m18.6-10.1h0m63.7-34.5h0m-110.2 59.4h0m124.8-67.2h0m-149 80.5h0m0 0h0m152.9-82.9h0m-124.1 67.4h0m155-81.2h0m-142.5 74.5h0m-28.3 15.4h0m1.1-.7h0m157.2-85.1h0m-109.9 59.4h0m-49.5 27h0m157.6-85.1h0m-27.1 14.3h0m-22.9 12.3h0m34.8-18.6h0m-158.6 85.8h0m129.5-70.8h0m-64.7 35.5h0m-61.1 33.3h0m21.1-11.9h0m162.6-86.1h0m-33.6 16.3h0m-117.1 63.8h0m14.9-8.3h0m-57.4 31.3h0m190.9-101.5h0m7-2.1h0m-9.1 2.7h0m-114.1 60.1h0m-17.2 9.6h0m34.3-18.5h0m72.2-39.4h0m-50.7 27.8h0m43.9-24.3h0m-159 86.5h0m39.9-21.5h0m101-54.6h0m-94.8 51.2h0m-20.6 11.1h0m162.7-86.9h0m-24.6 12.4h0m39.7-15.8h0m-14.3 2.8h0m-88.9 47h0m-12.4 6.9h0m-73.8 40.2h0m18.6-10.8h0m8.4-4h0m93.8-50.9h0m-95.2 51.8h0m67.2-36.8h0m26.5-14.1h0m15.1-8.1h0m-126.4 68.5h0m126.2-68.6h0m-20.1 10.2h0m-43.1 24.3h0m48.9-26.5h0m45.7-24.6h0m-57.9 31.2h0m-45.2 24.5h0m-27.6 15h0m116.2-63.1h0m-155.3 83.8h0m119.8-64.9h0m70.9-33.5h0m-115.8 58.1h0m27-14.5h0m94.2-43.5h0m-25.1 6.3h0m-74.3 39.8h0m-37 19.8h0m53.6-29.3h0m-41.2 22.8h0m105.3-56.1h0m-164.3 87.7h0m45.6-24h0m75.2-40.7h0m-120.5 64.9h0m118.6-63.9h0m-22 11.7h0m50-26.9h0m-77.5 41.7h0m85.5-46.3h0m-28.3 14.7h0m-111.6 61.1h0m136.1-73.2h0m-60.3 31.9h0m-11.9 6.9h0m42.4-22.9h0m-76.1 41.2h0m-17.9 9.6h0m131.8-71.2h0m-22.5 12.2h0m-144.9 78.4h0m-8.7 4.5h0m111.6-60.3h0m24.7-13.4h0m24.5-13h0m-166.5 90.1h0m194.6-103.2h0m-107.1 55.6h0m-63.8 34h0m3.8-1.6h0m12.4-6.5h0m60.2-32.5h0m-43.5 23.5h0m150.3-73.1h0m-136.4 65.1h0m16.5-8.5h0m-79.4 42.8h0m15.6-8.1h0m57.1-31.6h0m-42.6 23.5h0m81.5-44h0m-39.1 21.1h0m64.4-34.8h0m-145.3 78.8h0m170.8-92.4h0m-69.1 36.7h0m-83.3 45.5h0m42.9-23.1h0m127.7-68.5h0m-103 55h0m12.8-7.2h0m-81.2 44.4h0m181.4-94.6h0m-97.7 49.3h0m-90.6 48.8h0m21.4-11.3h0m129.4-70.1h0m2-1.4h0m-120.3 65.4h0m24-14.2h0m106.8-56.3h0m-105.1 56.7h0m44.6-24.1h0m63.3-34.3h0m-108.4 58.1h0m-42.6 23.2h0m65.1-35.1h0m-86.8 46.6h0m81.8-44.1h0m89.2-47.9h0m-5.6 3.1h0m-112.1 60.1h0m-27.5 15.1h0m66.3-35.7h0m90.2-48.3h0m-134.6 72.6h0m34.1-19h0m94.9-50.7h0m-105.1 56.6h0m78.6-42.3h0m-119.6 64.6h0m111-60.2h0m-35.4 19.3h0m65.9-35.3h0m-107.2 57.7h0m40.5-22.3h0m-70.5 38.2h0m139.7-75.1h0m-71.4 38.1h0m-106.1 57.8h0m204.9-104.2h0m-193.2 97.9h0m115.1-62.2h0m3.4-2.1h0m-64.2 34.6h0m96.5-53h0m-152.8 83.6h0m162.3-87.6h0m6.7-4h0m-27.2 15.1h0m-133.8 72.2h0m-4.5 1.4h0m7.3-3h0m117.3-63.1h0m-.4 0h0m-11.1 5.8h0m-94.5 51.4h0m112.6-61h0m-89.2 48.5h0m102.2-55.5h0m-27.4 14.9h0m-82.9 44.9h0m34.3-19.4h0m-75.8 41.9h0m68.7-37.8h0m131.5-62.9h0m-61.1 25.3h0m-68.3 37.1h0m104.3-56.3h0m-131.2 70.3h0m90.8-48.9h0m-74.7 40.5h0m13.5-7.1h0m-64.4 34.8h0m185.9-96h0m-35.9 14.8h0m15.1-8h0m-29.2 15.8h0m-99.9 53.8h0m102.5-55.4h0m-118.6 63.9h0m128.2-69h0m40.8-16.5h0m-30.8 11h0m-148.1 79.7h0m118.6-64.9h0m61.7-25.1h0m-111.4 53.3h0m104.5-52.9h0m-142 73.1h0m55.6-30.1h0m-37.2 20.1h0m42.5-22.9h0m-103 55.7h0m79.3-43.1h0m-55.6 30.2h0m24.6-13.1h0m62.3-33.9h0m-66 35.9h0m65.7-35.5h0m.1-.3h0m-.8 .4h0m47.5-25.3h0m30.8-12h0m-169.9 87h0m125.3-67.7h0m14.4-8h0m-6.2 3.2h0m23.2-11.4h0m12.6-2.9h0m-165.6 84.8h0m70.5-38h0m-84.8 45.5h0m177.2-91.7h0m-44.7 20.1h0m-126.7 68.5h0m108.6-58.5h0m-10.7 5.5h0m-49.3 27.1h0m-36.2 18.9h0m106.7-57.1h0m30.1-16.2h0m-121.7 65.5h0m5.8-3h0m-48.5 26.3h0m96.8-52.3h0m-14.4 7.6h0m4.5-2.3h0m-39.7 20.7h0m128.6-68.7h0m5.7-1h0m-90.4 46.8h0m66.8-35.9h0m-135.7 73h0m-20.8 11.4h0m-3.7 2h0m9.9-5.5h0m125.1-67.5h0m-25.8 13.8h0m-111.7 60.2h0m87.1-47.3h0m63.6-33.7h0m-82.3 43.7h0m108.4-57.5h0m-84.2 44.6h0m-6.8 4.1h0m-37.5 20.4h0m110.9-60.1h0m-144.4 78.2h0m62.7-34.1h0m-35.3 19.2h0m30.9-16.8h0m89.8-48.8h0m-96.5 52.6h0m-40.3 21.6h0m87.1-46.8h0m-116.3 62.7h0m29.2-15.8h0m107.5-58.2h0m-14.1 7.6h0m52.6-27.9h0m3.4-1.7h0m-67.8 36.1h0m-91.2 49.4h0m151.3-81.5h0m-159.3 85.8h0m185.7-95.6h0m-199.5 102.5h0m115.7-62h0m-103 55.5h0m142.4-77.2h0m-55 29.7h0m-81.4 44.1h0m170.9-90.5h0m-86.2 45h0m-66.8 36.2h0m125.8-67.8h0m.5-.3h0m-116.2 62.7h0m151.9-77.7h0m-191.5 99h0m121.7-65.7h0m-48.6 26.2h0m77.5-41.8h0m-61.7 33h0m68.4-36.5h0m-122 65.3h0m-7.7 4.4h0m45.6-24.7h0m98-52.4h0m-100.3 53.7h0m-55.9 29.9h0m167.7-88.2h0m-121.9 64h0m58.2-31.3h0m-50.8 27.4h0m4.3-2.8h0m-48.5 26.4h0m-28.8 15.8h0m154.4-83.2h0m25.2-13.4h0m-53.7 28.6h0m-39.4 21.3h0m34.8-19.2h0m76.9-35.7h0m-166.5 84.5h0m25.5-13.8h0m91.6-49.5h0m42.4-20.5h0m-26 12h0m-133.9 71.3h0m29.2-15h0m35.2-19.6h0m-63.2 34.7h0m3.8-2.7h0m83.5-44.5h0m-44.2 23.9h0m12.8-6.8h0m-63.7 33.8h0m-27.3 14.9h0m122.9-65.9h0m-108.6 58.6h0m91.3-49.5h0m1.7-.9h0m30.3-16.1h0m-130.2 70.2h0m118.8-64.4h0m23.9-12.8h0m-40.2 21.4h0m.6 .2h0m-8.1 4.3h0m-104.6 56.5h0m198.7-103.8h0m-9.9 3h0m-122.5 65.1h0m-37.1 20h0m131.6-71.2h0m-30.1 16.4h0m-41.3 21.8h0m-86.9 46.8h0m170.1-91h0m6.1-3.5h0m-32.2 17.4h0m-96.3 51.7h0m-3.2 1.7h0m23.7-12.6h0m15.8-8.4h0m-81.4 43.7h0m164.2-88.3h0m-147.1 79h0m175.1-91.3h0m-196.1 102.9h0m129.3-69.7h0m-113.4 61.2h0m70.5-38.2h0m-70 37.6h0m79.3-42.8h0m-57.4 31.2h0m-5.8 3.2h0m1.7-1h0m161.8-84.3h0m-184.4 96.2h0m161.4-86.4h0m-102.5 55h0m-8.1 4.4h0m119.5-64h0m-38 20.1h0m-12.5 6.7h0m75.9-32h0m-172 83.5h0m33.5-17.8h0m-2.5 1.4h0m82.9-44.7h0m-65.2 34h0m84.4-44.3h0m-145.1 78.1h0m99.5-53.7h0m-106 56.7h0m158.1-84.4h0m-58.5 31.4h0m54.6-29.4h0m-80.3 43.1h0m70.3-37.9h0m44.4-16.4h0m-159.3 78.1h0m102.6-55.2h0m31.2-16.3h0m-1.4 .8h0m-47.2 24.2h0m-107.9 58.5h0m81.8-43.4h0m27.7-15.2h0m18.7-10.2h0m2.6-1.3h0m-85.3 46.2h0m57.9-31.2h0m-101.6 54.8h0m124.4-67.2h0m-50.3 27.3h0m-78.3 42h0m182.2-92.5h0m-161.5 81.2h0m-30.4 16.7h0m102.4-56.5h0m61.3-31.5h0m-127.9 68.7h0m8.6-4.7h0m80.4-43.2h0m41.9-22.8h0m-179.1 96.2h0m163.6-87.7h0m-135 72.7h0m128.6-69.1h0m-126.2 67.9h0m25.1-13.8h0m136-71.4h0m-150.5 79.4h0m113-60.7h0m40-19.6h0m-15.8 6.8h0m-77.5 41.1h0m87.7-45.9h0m15-3.3h0m-57.2 24.9h0m-124.8 67h0m149.3-80.3h0m24.8-10.8h0m-74.4 37.7h0m-91.1 49h0m63.7-34.2h0m-9.9 5.4h0m-48.5 26.1h0m-28.6 15.2h0m87.6-47h0m48.9-26.3h0m-69.3 37h0m117-61.2h0m-45 22.8h0m35.2-18.7h0m-139.8 74.8h0m23.2-12.3h0m82-44.2h0m-9.1 4.9h0m32.9-17.6h0m-30.2 16.1h0m54.3-27.2h0m-152.2 79.9h0m43.5-23.7h0m82.9-44.6h0m22.3-10.2h0m-15.6 6.7h0m-53.3 28.3h0m-11.7 6.7h0m27.1-14.3h0m-60 32.1h0m-46.8 25.3h0m-2.7 1.4h0m142.2-76.6h0m15.3-7.3h0m-72.2 37.9h0m86.1-42.6h0m-152.1 78.1h0m97.9-52.4h0m-16.1 8.6h0m67.6-33.8h0m-180.5 94.6h0m71.2-38.4h0m-15.3 8.3h0m60.6-33.3h0m46.8-24.2h0m.6-.4h0m-167.6 90h0m61.4-33.2h0m-55 29.8h0m33.8-18.4h0m81-43.7h0m-128.8 68.9h0m57.4-30.5h0m104.6-56.5h0m-105.4 57.2h0m-14.1 7.7h0m-23.1 12.3h0m67.7-36.5h0m-21 11.5h0m52.1-28.3h0m65.5-33.9h0m-113.1 59.5h0m41.3-22.1h0m30.5-16.6h0m6.8-3.3h0m27.3-14.4h0m-80.7 42.2h0m5.3-2h0m20.3-10.8h0m-59.8 31.2h0m82.4-44.7h0m-19.6 11.9h0m22-13.3h0m48.5-21.2h0m-57.7 27.5h0m-105.6 56.3h0m-7.9 4.7h0m56.6-30.5h0m23.1-12.8h0m25.5-13.1h0m38.7-20.7h0m-23.8 12.6h0m-88.2 47.4h0m63.6-34.2h0m-32.2 17.4h0m94.7-50.5h0m-172.2 92h0m171.6-92.6h0m-26.7 15h0m-138.9 74.6h0m136.7-73.6h0m-52.7 28h0m-57.4 31.3h0m142.5-75.8h0m-174.3 92.7h0m152-81.4h0m-120.7 64.4h0m8-4h0m81.6-44h0m-11.4 5.9h0m-98.6 52.1h0m84.3-44h0m-49.4 26.5h0m84.3-45.4h0m39.7-20.9h0m-89.8 48h0m14.7-7.9h0m8-4.2h0m-95.3 51.1h0m102.2-54.9h0m26.4-14.3h0m54.8-22.2h0m-11.4 1.3h0m7-1.7h0m-149.2 75.3h0m36.9-19.3h0m109.5-55.4h0m-149.8 76.8h0m67.1-35.8h0m57.9-30.9h0m-26.9 14.1h0m45.8-22.9h0m-186.1 98.4h0m39.6-21.4h0m65.9-35.2h0m-6.2 2.6h0m-82.3 44.6h0m181.5-90.5h0m-12.6 1.8h0m-123.9 64.9h0m108-58h0m18.7-7.8h0m-75.3 38.2h0m-34.3 18.2h0m-59.4 32.1h0m-9.4 4.8h0m150.2-80.2h0m-78.5 42h0m88.7-47.5h0m10.8-5h0m13.4-4h0m-43.8 19.3h0m-48.7 26h0m-41.4 22.4h0m44.5-24.9h0m-6 4.1h0m-76.6 40.5h0m127.7-68.1h0m7.1-3.3h0m6.2-3.4h0m-159.4 85.6h0m83.1-44.8h0m-80.7 43.2h0m165.7-88.9h0m-98.6 53h0m29.1-15.8h0m-88.6 47.9h0m129.9-70h0m-143.7 77.3h0m25.4-13.5h0m-14.3 7.6h0m151.1-81h0m-71.9 38.6h0m-21.7 11.4h0m-20.5 10.9h0m45.8-24.9h0m92.9-47.3h0m-39.3 19.1h0m-148.2 79.5h0m57.1-30.6h0m33-18.4h0m-40 22.2h0m65.7-35.2h0m-66.5 35.6h0m97.8-52.5h0m42.2-20.4h0m7.7-.7h0m-136.5 67.7h0m-36.1 19h0m26.2-13.8h0m-12 6.6h0m-25 13.2h0m39.7-21.2h0m43.7-23.4h0m33.7-18.2h0m20.1-11.5h0m7.8-3.3h0m-130.2 69.5h0m-27.1 14.9h0m163.5-87.7h0m-10.4 5.2h0m-124.4 66.8h0m94.8-50.7h0m-75.6 40.6h0m151.4-73.2h0m-124.1 58.5h0m66.1-35.6h0m58.1-22.9h0m-90.3 40.1h0m70.7-37.2h0m7.1-4h0m-94.2 50.4h0m-32.4 17.3h0m117-62.1h0m-115.1 61.1h0m42.3-22.6h0m41-22h0m-20.5 11h0m-71.3 38.2h0m68-36.4h0m-97.3 52.2h0m21.7-12.1h0m49.2-26.6h0m-21.1 12h0m100.2-53.6h0m-103.9 55.3h0m19-10.5h0m-8 4.7h0m107.7-55.3h0m-189.7 99.3h0m49.5-26.4h0m72.3-38.8h0m-119.4 63.9h0m72.6-39h0m-22.5 12.2h0m48.4-25.9h0m41.1-22.1h0m-135.9 72.9h0m183.5-95.5h0m-168.9 87.5h0m52-27.6h0m-.4 0h0m85.7-46.2h0m39-14.8h0m-135.6 66.7h0m73.3-39.5h0m-82.2 44.5h0m-43.9 23.6h0m159.1-85.1h0m-98.5 52.2h0m40.3-21.4h0m-16.5 9.1h0m-79.1 41.8h0m15.6-7.9h0m1.3-.5h0m89.1-47.8h0m53-28.1h0m-107.5 57.4h0m-66.7 35.2h0m170.7-90.8h0m-158.6 84.8h0m110.9-59.5h0m55.9-29.8h0m-112.1 59.4h0m59.4-31.3h0m-66.6 35.7h0m9.4-5.1h0m33.8-18.2h0m2-.9h0m-64.2 34.4h0m114.9-62.4h0m-37.2 20.8h0m76.3-37h0m-30.6 12.6h0m10.5-5.4h0m-167.1 89.3h0m146.5-79.6h0m38.4-16.6h0m-7.2 2.1h0m-63.3 32.7h0m40.7-21.6h0m-127.9 68.5h0m43.9-23.6h0m9.9-5.5h0m-50 25.8h0m125.9-66.4h0m-19.7 10.6h0m36.1-18.8h0m-95.9 50h0m93.2-48.7h0m15.1-4.9h0m-178 91.8h0m99.8-53.4h0m68.7-35.6h0m-172.5 90.5h0m152.5-80.9h0m3.1-1.5h0m10.5-5.6h0m13.8-4.8h0m10.6-.4h0m-53.4 20.6h0m-29.4 15h0m22.3-11.3h0m59.8-24.4h0m-48.8 18.2h0m9.5-4.6h0m-53.4 28.5h0m-65.1 34.7h0m50.8-27.1h0m-53.1 28h0m143.5-75.1h0m.1-.1h0m-76.1 39.4h0m-5.6 2.8h0m21.6-11.3h0m2.2-1.2h0m-101.8 54.6h0m38.4-20.6h0m-51.1 27.3h0m180.1-93.4h0m-23.7 9.4h0m-115.4 62.1h0m80.1-43.2h0m59.1-28h0m-119.4 60.7h0m27-14.4h0m-15.1 7.8h0m90.3-47.9h0m-150.7 80.4h0m122.2-65.4h0m-34.7 18.6h0m-36.3 19.4h0m-22.7 12.2h0m80.1-42.9h0m7-4.1h0m34.6-17.7h0m-11.3 4.9h0m-39.3 21.7h0m-73.4 39.3h0m6.9-3.7h0m3.7-2.2h0m102.3-54.4h0m-55.3 28.8h0m-32.8 17.8h0m61.7-33.4h0m-54.9 30h0m35-18.6h0m-47.4 25.6h0m12.5-6.8h0m-55 29.3h0m18.9-10.2h0m84.3-45h0m-58.1 31.2h0m9.3-5h0m10.7-6.2h0m-80 43.3h0m127.8-68.4h0m14.9-8h0m-108.3 58.1h0m145-75.4h0m-43.2 20.9h0m-147.8 78.7h0m48.3-25.5h0m-27.8 14.4h0m99.6-52.9h0m33.5-17.7h0m-75.6 39h0m93.8-48.5h0m-.2 .1h0m-17.2 8.8h0m-82.5 44.3h0m-58.8 31.2h0m54.4-28.9h0m85.1-46.8h0m-115.5 62.9h0m66.6-35.5h0m-88.8 47.2h0m32.2-17.1h0m99.7-53.7h0m-143 77h0m103.9-55.5h0m-34.3 18.2h0m15-8.3h0m67.7-35.9h0m44.9-15.8h0m-137.1 65.2h0m6.2-3.3h0m62.5-33.7h0m-40.9 22.2h0m-79.1 42.4h0m184.6-93.4h0m-25 8.3h0m-82.9 43.6h0m16-8.1h0m63.3-33.8h0m-102.1 54.6h0m27.1-14.9h0m-16.6 8.8h0m-46.4 25.1h0m.8-.6h0m158.4-81.8h0m3.4-.8h0m-54.2 25.2h0m38.4-20h0m-87.4 46.4h0m83.6-44.4h0m-164.4 87.3h0m137.6-73.5h0m-83.8 44.7h0m-52.3 28.1h0m28.1-15.4h0m90.4-48h0m14.6-7.7h0m-86 45.9h0m45.4-24.1h0m27.7-14.8h0m12.1-6.5h0m2.5-1.1h0m-119.7 63.6h0m150.2-80h0m21.4-6h0m-66 29.6h0m-12.8 7h0m77-36.3h0m-90.6 43.7h0m-98.3 52.4h0m95.4-51.1h0m87.3-44.2h0m-163.2 84.8h0m32.9-17.6h0m10.6-5.5h0m23.5-12.5h0m10.7-5.9h0m-56.6 30.3h0m1.8-1h0m148.1-73.9h0m-171.3 85.2h0m105.1-55.1h0m-43.4 23.2h0m-48.7 25.8h0m-7.6 4.5h0m45-24h0m-78.6 41.6h0m144.4-76.8h0m-66 35.1h0m24.6-13h0m-104.5 55.6h0m20.9-11.9h0m122.9-65.5h0m5.6-2.1h0m-107.8 57.3h0m-14.8 7.9h0m70-37.2h0m87-45.7h0m-89.7 46.3h0m43.6-22.4h0m-97.7 52.2h0m140.6-74.7h0m11.7-4.4h0m-41.1 19.3h0m-43.5 23.3h0m9.9-5h0m-15 8h0m-92 49.2h0m31.8-18.3h0m136.1-71h0m9.7-4.6h0m-17.7 8.4h0m-36.2 19.2h0m-101.1 53.7h0m47.7-25.1h0m-30.7 16.3h0m20-10.5h0m105.1-55.8h0m-97.7 51.9h0m-58.4 31.3h0m86.2-46.2h0m-57.5 30.7h0m124.7-66.2h0m-78.4 41.6h0m-30.7 16.3h0m-42.4 22.6h0m-8.3 4.6h0m68.8-37h0m41.3-22h0m-57.5 30.8h0m22.6-12.3h0m-35.6 18.9h0m-30 16.3h0m133.2-70.8h0m-123.2 65.6h0m-21.8 11.4h0m168.9-90.3h0m22.2-5.9h0m-138.4 68.1h0m128.2-66.4h0m-75 37.8h0m83.7-39.4h0m-78.3 37h0m20.1-10.9h0m26.5-13.8h0m-95.4 50.7h0m17.9-9.5h0m15.8-8.7h0m71-37.4h0m22.1-7.3h0m-78.5 37.1h0m58.1-30.9h0m-170 90.2h0m152.1-80.5h0m-54.2 28.7h0m29.1-15.5h0m-129.8 69.1h0m-3.9 1.7h0m62.7-32.9h0m118.3-62.6h0m1-.1h0m-126 66.3h0m107.3-57h0m-99 52.7h0m16-9h0m67.4-35.9h0m-34 18.2h0m80.4-38.9h0m-63.7 29.9h0m-74.3 39.8h0m82.6-44.3h0m-42.8 23.4h0m50.1-26.8h0m34.2-18.4h0m-29.7 15.6h0m-138.4 73.9h0m156.9-83.2h0m9.1-4.8h0m-133 70.4h0m101.8-53.9h0m-115.2 61.4h0m53.9-29.6h0m72.2-37.7h0m29.4-13.9h0m-29.3 13.8h0m-9.5 5h0m-137 73h0m25.8-14.3h0m-25 14.1h0m74.1-40.1h0m73.8-38.7h0m-82.7 43.9h0m-51.2 26.9h0m19.9-10.2h0m8.8-5.1h0m100.1-53.3h0m-147.7 78.9h0m5.2-2.4h0m56-29.9h0m37.9-20.6h0m-58.4 31.2h0m97-51.3h0m-146.8 78.2h0m188.4-99.6h0m-66 34.3h0m-47.3 25h0m-21.6 11.5h0m-11.2 6.2h0m109.5-58.3h0m-50.6 26.6h0m45.6-23.9h0m-80.5 42.3h0m103-54.3h0m-46.9 25h0m-48.6 25.9h0m106.9-56.5h0m-139.8 74h0m.4-.2h0m15.6-8.4h0m42.7-22.6h0m39.2-20.8h0m-68 35.5h0m0 .6h0m129.6-63.4h0m-190.3 95.4h0m165.7-87.6h0m-40.2 21h0m-87.2 46.5h0m90.2-48.3h0m-5.5 3.3h0m-132.2 70.3h0m116.5-62h0m-13.9 7.3h0m60.5-32.2h0m14.8-7.8h0m-42.5 22.5h0m-54.8 29.4h0m-16.3 8.3h0m44.9-23.8h0m-109 58.3h0m193.8-100h0m-109.7 54.4h0m-80.2 43.5h0m103.8-55.3h0m-97.1 51.8h0m170.6-90.3h0m-181.8 96.2h0m80-42.7h0m2.1-1h0m-85 44.7h0m171.1-90.5h0m-34.1 18h0m-107.7 57.4h0m152.6-81h0m-148.9 79.1h0m38-21.1h0m4.7-1.7h0m37.5-20h0m-38 19.5h0m1.8-.4h0m83-44.8h0m-74 40.3h0m-77.8 41.5h0m59.2-31.6h0m-10.1 5h0m45.1-23.6h0m-12.7 6.2h0m-23 12.9h0m108.7-57.9h0m-69.9 37.1h0m-8.3 4.2h0m54.6-28.8h0m-146.5 78h0m91.6-48.8h0m-8.8 4.6h0m-36.9 19.8h0m82.2-43.9h0m11-5.8h0m-50.6 27h0m105.6-52.3h0m-5.3 1.2h0m-77.7 38.8h0m-55.2 29.7h0m4.3-2.3h0m31.1-16.6h0m70.8-37.5h0m-158.3 83.8h0m165.1-87.5h0m-73.1 38.2h0m-24.2 13.3h0m44.6-23.4h0m43.7-23.2h0m-3 1.3h0m-5.9 3.4h0m-105.3 56h0m-29.8 15.9h0m128.4-68.3h0m-26.2 13.2h0m-34 18.1h0m-48.2 26.3h0m149.5-78.3h0m2.5-1.2h0m-190.3 99.9h0m121-64.3h0m-77.2 40.8h0m127.3-67.6h0m-92.5 47.4h0m-78.6 43.5h0m135.8-72.5h0m-15.9 8.9h0m10.1-5.4h0m48-25.2h0m-71.4 37.7h0m-48.7 25.2h0m-58.3 31.6h0m45.6-24.2h0m151.4-76.5h0m-.3-.6h0m-80.4 39.6h0m-15.9 8.3h0m11.3-6.1h0m60-31.6h0m-161.9 85.9h0m191.7-95.8h0m-2 .1h0m-159.4 79.8h0m154.3-79.4h0m-177.8 91.3h0m94.8-50.1h0m-30 15.4h0m-40.7 22.3h0m118.1-62.6h0m-138.9 73.8h0m167.2-87.7h0m-154.7 80.6h0m33.2-17.3h0m-28 15h0m127.1-67.6h0m-13.2 6.6h0m-5.5 2.1h0m49-21.8h0m-80.3 39.3h0m77.2-38.5h0m-100.5 51.2h0m109.7-52.3h0m-30.4 10.3h0m8.4-4.2h0m13.5-5h0m-171.8 88.5h0m61.6-32.6h0m-3 1.5h0m37.4-20.2h0m40.9-22.3h0m-117.7 63.6h0m143-75.3h0m-182.4 96.2h0m202.7-100.4h0m-100.7 45.7h0m-61.2 33.2h0m-6.6 2.9h0m101.7-53.5h0m-82.3 43.8h0m11.5-6.4h0m75.3-40h0m-94.5 50.5h0m-2.6 1.3h0m-23.6 12.5h0m57.7-30.6h0m-20.3 10.7h0m86.9-46h0m20.6-10.9h0m-162.4 86.3h0m109.1-58.3h0m-12.9 6.1h0m-15.4 9.3h0m-36.4 19.2h0m10.3-5.6h0m-25.1 13.5h0m155.8-81.4h0m-107.5 55.7h0m11-6.6h0m100.5-50.8h0m1.5-.4h0m-19.3 8h0m-151.9 80.8h0m143.1-76.4h0m13.8-7h0m-110.2 58.5h0m133.7-64.5h0m-16.3 3.2h0m-68 34.9h0m-70.1 37.4h0m-1.6 .9h0m90.4-47.9h0m44.8-23.4h0m1.1-.5h0m-72.1 37.3h0m-97 52.1h0m40.1-21.4h0m137.1-71h0m-90.2 46.1h0m46.7-24.8h0m18.3-9.6h0m10.3-5.2h0m-39.9 20.2h0m52.1-25.5h0m-180.4 94.3h0m34.7-18.5h0m-26 13.9h0m169.9-89h0m-156.5 81.9h0m150.4-79.7h0m-148.5 77.5h0m54.7-28.3h0m109.4-54.2h0m-3.2 .7h0m-114.4 57.8h0m1.4-.5h0m-21.6 11.6h0m103.4-54.7h0m-87.2 46.2h0m77.1-40.9h0m-28.3 14.9h0m-113 59.3h0m155.3-81.6h0m-104.5 55.4h0m-29 15.4h0m11.4-7.1h0m122.5-64.4h0m18.8-8.9h0m-126 66.2h0m120.2-63.3h0m-35.9 18.4h0m-140.6 75h0m167.6-88.9h0m-49.6 25.8h0m-112.5 60.1h0m-4.9 2.5h0m11.3-5.8h0m75.9-40.4h0m12-6.4h0m36.5-19.5h0m-102.6 54.4h0m-31.8 17h0m27-14.2h0m11.3-6.1h0m32.2-17.2h0m115.5-59.2h0m-124 63.9h0m136.2-65.6h0m-49.9 19.8h0m-104 55.1h0m-27.2 13.5h0m53-27.2h0m101-53.6h0m-65.8 34.4h0m-54.1 29.1h0m-2.7 1.2h0m-40.6 22h0m76.3-40.6h0m-67.4 35.8h0m-21.3 11.5h0m15.7-8.3h0m146.4-77.6h0m-97.7 51.7h0m-61 32.2h0m68.6-36.2h0m11-5.9h0m60.1-32h0m-94.7 50.3h0m93-49.4h0m-137 72.7h0m71.5-37.9h0m102.2-53.7h0m-112.2 59.1h0m135.4-65.8h0m-137.1 66.7h0m59.3-31.6h0m-19.2 10.2h0m96.8-45.5h0m-47.2 19.4h0m-91.3 48.4h0m60.3-32.1h0m4.8-2.7h0m49.8-25.9h0m-31.9 16.6h0m-8.2 4.3h0m-66.4 35.1h0m35.9-19.2h0m-52.1 28.1h0m45.5-24.1h0m102.1-49.2h0m-136.8 67.5h0m31.9-17h0m24.6-13.2h0m-118.2 63h0m81.6-43.3h0m86.2-45.8h0m1.7-.9h0m-92.5 49.2h0m54.5-29h0m33.6-17.5h0m31.2-11.5h0m-144 71.1h0m49.3-26.2h0m.8-.7h0m-27.1 14.5h0m119.2-58.5h0m-167.3 84.1h0m138.1-73.2h0m20-8.9h0m2.7-.9h0m3.8-.8h0m-130.1 65.1h0m97.5-51h0m6.8-3.6h0m-117.1 61.9h0m105.5-55.9h0m-13.5 7.2h0m11.3-5.9h0m-124.5 65.9h0m81.8-43.5h0"/></g>
<path d="M47.60 163.60H334.40" stroke="#000" stroke-width="1.2" stroke-dasharray="1.6 1.55"/>
<path d="M47.60 220.60H334.40" stroke="#000" stroke-width="1.2" stroke-dasharray="1.6 1.55"/>
<path d="M44.20 237.90v-1.80M44.20 9.90v1.80M60.99 237.90v-1.80M60.99 9.90v1.80M70.82 237.90v-1.80M70.82 9.90v1.80M77.79 237.90v-1.80M77.79 9.90v1.80M83.20 237.90v-3.50M83.20 9.90v3.50M100.00 237.90v-1.80M100.00 9.90v1.80M116.79 237.90v-1.80M116.79 9.90v1.80M126.62 237.90v-1.80M126.62 9.90v1.80M133.59 237.90v-1.80M133.59 9.90v1.80M139.00 237.90v-3.50M139.00 9.90v3.50M155.80 237.90v-1.80M155.80 9.90v1.80M172.59 237.90v-1.80M172.59 9.90v1.80M182.42 237.90v-1.80M182.42 9.90v1.80M189.39 237.90v-1.80M189.39 9.90v1.80M194.80 237.90v-3.50M194.80 9.90v3.50M211.60 237.90v-1.80M211.60 9.90v1.80M228.39 237.90v-1.80M228.39 9.90v1.80M238.22 237.90v-1.80M238.22 9.90v1.80M245.19 237.90v-1.80M245.19 9.90v1.80M250.60 237.90v-3.50M250.60 9.90v3.50M267.40 237.90v-1.80M267.40 9.90v1.80M284.19 237.90v-1.80M284.19 9.90v1.80M294.02 237.90v-1.80M294.02 9.90v1.80M300.99 237.90v-1.80M300.99 9.90v1.80M306.40 237.90v-3.50M306.40 9.90v3.50M323.20 237.90v-1.80M323.20 9.90v1.80M44.30 237.80h3.50M334.40 237.80h-3.50M44.30 229.22h1.80M334.40 229.22h-1.80M44.30 220.64h1.80M334.40 220.64h-1.80M44.30 215.62h1.80M334.40 215.62h-1.80M44.30 212.06h1.80M334.40 212.06h-1.80M44.30 209.30h3.50M334.40 209.30h-3.50M44.30 200.72h1.80M334.40 200.72h-1.80M44.30 192.14h1.80M334.40 192.14h-1.80M44.30 187.12h1.80M334.40 187.12h-1.80M44.30 183.56h1.80M334.40 183.56h-1.80M44.30 180.80h3.50M334.40 180.80h-3.50M44.30 172.22h1.80M334.40 172.22h-1.80M44.30 163.64h1.80M334.40 163.64h-1.80M44.30 158.62h1.80M334.40 158.62h-1.80M44.30 155.06h1.80M334.40 155.06h-1.80M44.30 152.30h3.50M334.40 152.30h-3.50M44.30 143.72h1.80M334.40 143.72h-1.80M44.30 135.14h1.80M334.40 135.14h-1.80M44.30 130.12h1.80M334.40 130.12h-1.80M44.30 126.56h1.80M334.40 126.56h-1.80M44.30 123.80h3.50M334.40 123.80h-3.50M44.30 115.22h1.80M334.40 115.22h-1.80M44.30 106.64h1.80M334.40 106.64h-1.80M44.30 101.62h1.80M334.40 101.62h-1.80M44.30 98.06h1.80M334.40 98.06h-1.80M44.30 95.30h3.50M334.40 95.30h-3.50M44.30 86.72h1.80M334.40 86.72h-1.80M44.30 78.14h1.80M334.40 78.14h-1.80M44.30 73.12h1.80M334.40 73.12h-1.80M44.30 69.56h1.80M334.40 69.56h-1.80M44.30 66.80h3.50M334.40 66.80h-3.50M44.30 58.22h1.80M334.40 58.22h-1.80M44.30 49.64h1.80M334.40 49.64h-1.80M44.30 44.62h1.80M334.40 44.62h-1.80M44.30 41.06h1.80M334.40 41.06h-1.80M44.30 38.30h3.50M334.40 38.30h-3.50M44.30 29.72h1.80M334.40 29.72h-1.80M44.30 21.14h1.80M334.40 21.14h-1.80M44.30 16.12h1.80M334.40 16.12h-1.80M44.30 12.56h1.80M334.40 12.56h-1.80M44.30 9.80h3.50M334.40 9.80h-3.50" stroke="#000" stroke-width="1" fill="none"/>
<rect x="44.30" y="9.90" width="290.10" height="228.00" fill="none" stroke="#000" stroke-width="1.45"/>
<rect x="342.00" y="9.90" width="14.40" height="228.00" fill="url(#cb)" stroke="#000" stroke-width="1.4"/>
<path d="M342.00 237.90h2.5M356.40 237.90h-2.5M342.00 212.57h2.5M356.40 212.57h-2.5M342.00 187.23h2.5M356.40 187.23h-2.5M342.00 161.90h2.5M356.40 161.90h-2.5M342.00 136.57h2.5M356.40 136.57h-2.5M342.00 111.23h2.5M356.40 111.23h-2.5M342.00 85.90h2.5M356.40 85.90h-2.5M342.00 60.57h2.5M356.40 60.57h-2.5M342.00 35.23h2.5M356.40 35.23h-2.5M342.00 9.90h2.5M356.40 9.90h-2.5" stroke="#000" stroke-width="1" fill="none"/>
<text transform="translate(39.2 242.2) scale(1.05 1)" text-anchor="end" font-size="11.3">10<tspan font-size="7.0" dy="-5.3">3</tspan></text><text transform="translate(39.2 213.7) scale(1.05 1)" text-anchor="end" font-size="11.3">10<tspan font-size="7.0" dy="-5.3">4</tspan></text><text transform="translate(39.2 185.2) scale(1.05 1)" text-anchor="end" font-size="11.3">10<tspan font-size="7.0" dy="-5.3">5</tspan></text><text transform="translate(39.2 156.7) scale(1.05 1)" text-anchor="end" font-size="11.3">10<tspan font-size="7.0" dy="-5.3">6</tspan></text><text transform="translate(39.2 128.2) scale(1.05 1)" text-anchor="end" font-size="11.3">10<tspan font-size="7.0" dy="-5.3">7</tspan></text><text transform="translate(39.2 99.7) scale(1.05 1)" text-anchor="end" font-size="11.3">10<tspan font-size="7.0" dy="-5.3">8</tspan></text><text transform="translate(39.2 71.2) scale(1.05 1)" text-anchor="end" font-size="11.3">10<tspan font-size="7.0" dy="-5.3">9</tspan></text><text transform="translate(40.2 42.7) scale(1.05 1)" text-anchor="end" font-size="11.3">10<tspan font-size="7.0" dy="-5.3">10</tspan></text><text transform="translate(40.2 14.2) scale(1.05 1)" text-anchor="end" font-size="11.3">10<tspan font-size="7.0" dy="-5.3">11</tspan></text>
<text x="84.9" y="252.2" text-anchor="middle" font-size="11.3">0.01</text><text x="140.3" y="252.2" text-anchor="middle" font-size="11.3">0.1</text><text x="194.4" y="252.2" text-anchor="middle" font-size="11.3">1</text><text x="251.7" y="252.2" text-anchor="middle" font-size="11.3">10</text><text x="308.8" y="252.2" text-anchor="middle" font-size="11.3">100</text>
<text transform="translate(361.2 239.7) scale(1.05 1)" font-size="11.3">200</text><text transform="translate(361.2 214.4) scale(1.05 1)" font-size="11.3">300</text><text transform="translate(361.2 189.0) scale(1.05 1)" font-size="11.3">400</text><text transform="translate(361.2 163.7) scale(1.05 1)" font-size="11.3">500</text><text transform="translate(361.2 138.4) scale(1.05 1)" font-size="11.3">600</text><text transform="translate(361.2 113.0) scale(1.05 1)" font-size="11.3">700</text><text transform="translate(361.2 87.7) scale(1.05 1)" font-size="11.3">800</text><text transform="translate(361.2 62.4) scale(1.05 1)" font-size="11.3">900</text><text transform="translate(361.2 37.0) scale(1.05 1)" font-size="11.3">1000</text><text transform="translate(361.2 11.7) scale(1.05 1)" font-size="11.3">1100</text>
<text font-size="9.05" y="158.7"><tspan x="207.3">Minimum </tspan><tspan x="246.6">T</tspan><tspan x="252.2" font-size="7" y="161">R</tspan></text>
<text x="168.8" y="214.8" font-size="9.05">Minimum Split-SUSY scale</text>
<text font-size="9.05" y="26.9"><tspan x="256.2">Color : </tspan><tspan x="284.6">M</tspan><tspan x="292" font-size="7" y="29">ino</tspan><tspan x="303.5" y="26.9">[GeV]</tspan></text>
<text font-size="12.5" y="270.5"><tspan x="159.6">m</tspan><tspan x="170.6" font-size="10" y="274.3">3/2</tspan><tspan x="188.9" y="270.5">[GeV]</tspan></text>
<text transform="translate(11.2,0) rotate(-90)" font-size="12.5" y="0"><tspan x="-148.6">T</tspan><tspan x="-141.3" font-size="10.3" y="2.9">R</tspan><tspan x="-132.7" y="0">[GeV]</tspan></text>
</svg>
</body></html>
